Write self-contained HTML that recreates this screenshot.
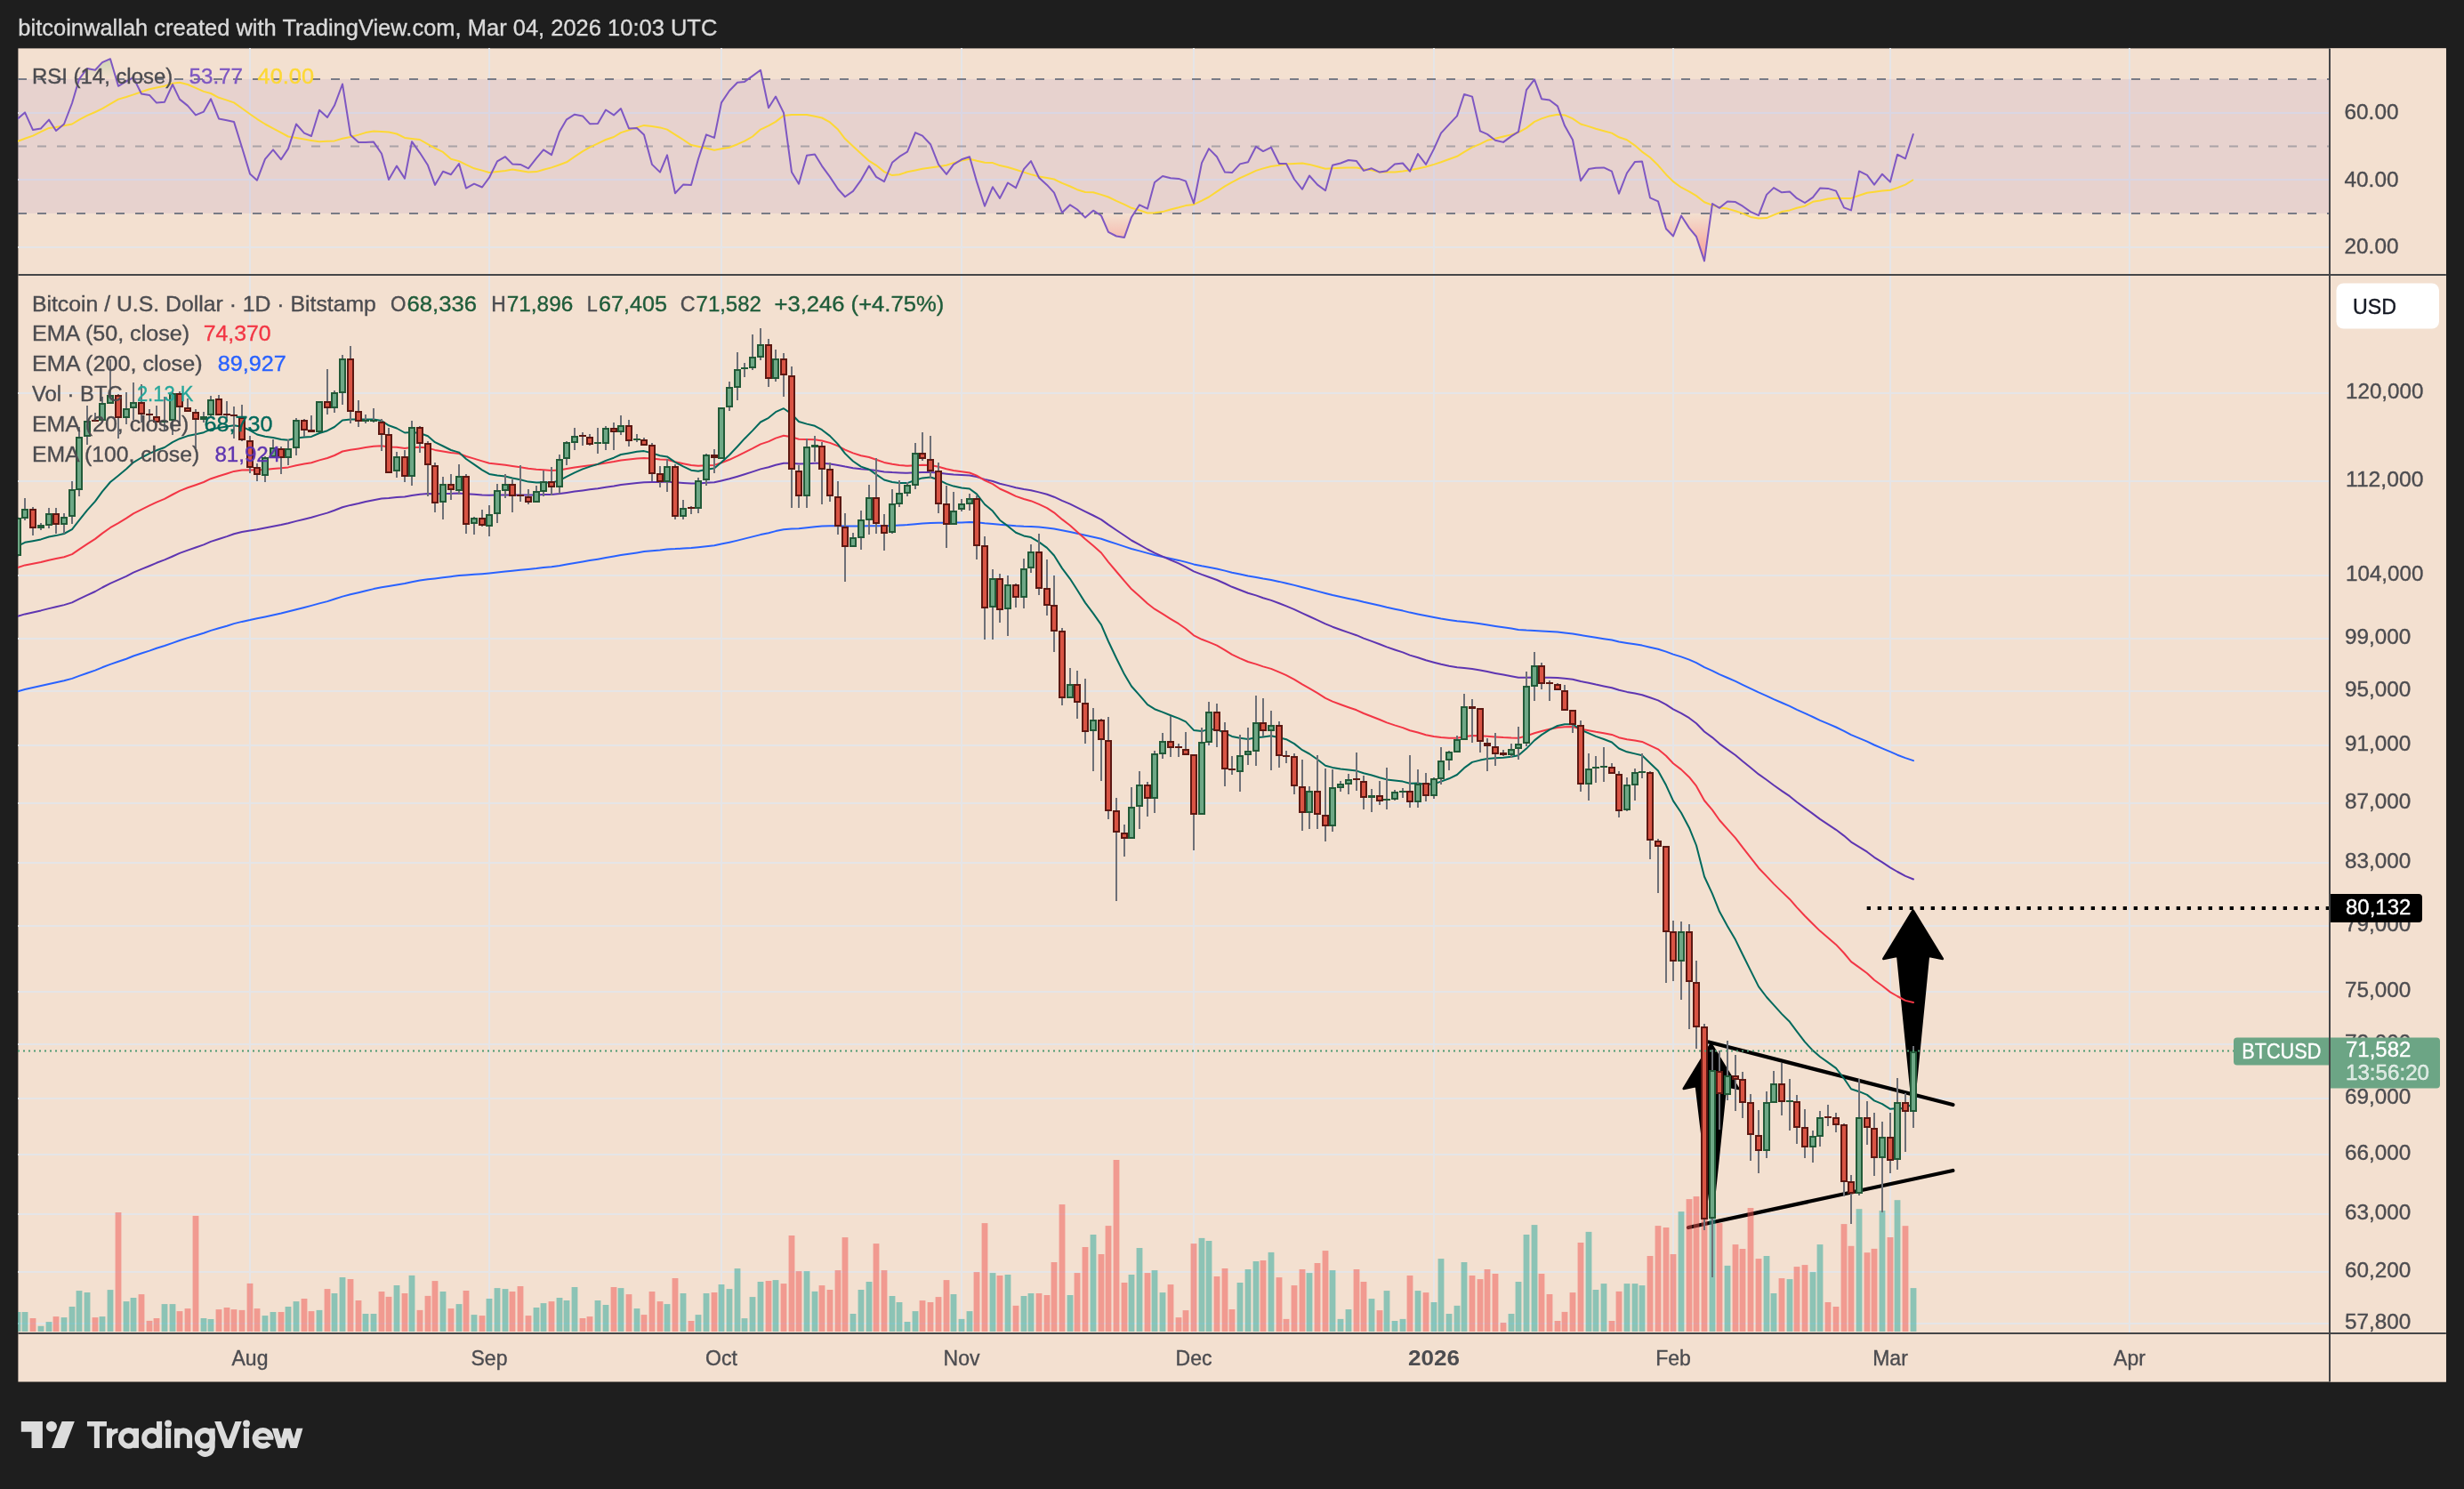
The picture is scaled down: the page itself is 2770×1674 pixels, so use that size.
<!DOCTYPE html>
<html><head><meta charset="utf-8"><title>BTCUSD chart</title>
<style>html,body{margin:0;padding:0;background:#1e1e1e;}body{width:2770px;height:1674px;overflow:hidden;font-family:"Liberation Sans",sans-serif;}svg{display:block;will-change:transform}</style>
</head><body>
<svg xmlns="http://www.w3.org/2000/svg" width="2770" height="1674" viewBox="0 0 2770 1674" shape-rendering="auto">
<defs>
<clipPath id="cm"><rect x="20" y="310" width="2599" height="1188"/></clipPath>
<clipPath id="cr"><rect x="20" y="54" width="2599" height="254"/></clipPath>
<linearGradient id="gob" x1="0" y1="0" x2="0" y2="1" gradientUnits="userSpaceOnUse"><stop offset="0" stop-color="#4caf50" stop-opacity="0.35"/><stop offset="1" stop-color="#4caf50" stop-opacity="0"/></linearGradient>
<linearGradient id="gos" x1="0" y1="239.9" x2="0" y2="300" gradientUnits="userSpaceOnUse"><stop offset="0" stop-color="#ff5252" stop-opacity="0"/><stop offset="1" stop-color="#ff5252" stop-opacity="0.55"/></linearGradient>
<linearGradient id="gobg" x1="0" y1="60" x2="0" y2="88.9" gradientUnits="userSpaceOnUse"><stop offset="0" stop-color="#4caf50" stop-opacity="0.28"/><stop offset="1" stop-color="#4caf50" stop-opacity="0"/></linearGradient>
</defs>
<rect width="2770" height="1674" fill="#1e1e1e"/>
<rect x="20.4" y="54.4" width="2729.46" height="1499.10" fill="#f3e0d0"/>
<path d="M281 54V1499M550 54V1499M811 54V1499M1081 54V1499M1342 54V1499M1612 54V1499M1881 54V1499M2125 54V1499M2394 54V1499M20 442H2618M20 541H2618M20 647H2618M20 718H2618M20 777H2618M20 838H2618M20 903H2618M20 970H2618M20 1041H2618M20 1115H2618M20 1174H2618M20 1235H2618M20 1298H2618M20 1365H2618M20 1430H2618M20 1488H2618M20 127H2619M20 202H2619M20 278H2619" stroke="#e5e5e7" stroke-width="2" fill="none"/>
<g clip-path="url(#cr)">
<rect x="20" y="88.9" width="2599" height="151" fill="#7e57c2" fill-opacity="0.1"/>
<path d="M89 88.9 L98 77 L107 78.8 L115 70.1 L124 66.2 L130.5 88.9Z" fill="url(#gobg)"/>
<path d="M147.2 88.9 L150 87.2 L150.8 88.9Z" fill="url(#gobg)"/>
<path d="M841 88.9 L846 85.4 L855 78.8 L857.1 88.9Z" fill="url(#gobg)"/>
<path d="M1215.2 239.9 L1220 244.6 L1225.2 239.9Z" fill="url(#gos)"/>
<path d="M1233.8 239.9 L1238 242.5 L1246 260.8 L1255 265.5 L1264 266.9 L1272 244.2 L1274.7 239.9Z" fill="url(#gos)"/>
<path d="M1867.8 239.9 L1873 257.3 L1881 265.5 L1890 242.5 L1899 256.4 L1907 266 L1916 293.4 L1923.2 239.9Z" fill="url(#gos)"/>
<path d="M1971.9 239.9 L1977 242.1 L1977.8 239.9Z" fill="url(#gos)"/>
<path d="M20 88.9H2619M20 239.9H2619" stroke="#787b86" stroke-width="2" stroke-dasharray="10 12" fill="none"/>
<path d="M20 164.4H2619" stroke="#787b86" stroke-opacity="0.55" stroke-width="2" stroke-dasharray="10 12" fill="none"/>
<polyline points="20,158.7 28,155.7 37,152.6 46,148.2 55,143.9 63,143 72,141.3 81,139.5 89,134.7 98,129.9 107,126 115,122.1 124,116.8 133,111.6 142,109 150,106.4 159,103.3 168,100.2 176,98.5 185,96.8 194,93.8 202,92.7 211,95 220,98.9 229,102.9 237,105 246,109.8 255,112.6 263,115.4 272,121.8 281,128.2 289,133.8 298,139.5 307,144.3 316,149.1 324,153.5 333,155 342,156.6 350,157.9 359,159.2 368,158.8 376,158.4 385,155.7 394,154 403,151.6 411,149.1 420,147.4 429,148 437,148.6 446,150.5 455,154.9 463,155.9 472,157 481,162.2 489,166.6 498,170.9 507,178.8 516,181.1 524,185.2 533,189.3 542,191.6 550,194 559,192.9 568,191.9 576,190.6 585,192.1 594,193.6 603,193.1 611,190.7 620,188.4 629,185.3 637,182.3 646,176.2 655,170.1 663,165.7 672,161.3 681,157 690,154 698,149.1 707,146.2 716,143.4 724,140.9 733,142.1 742,143.4 750,145.6 759,151.3 768,157 777,163.1 785,164.8 794,166.6 803,168.7 811,167.2 820,165.7 829,162.2 837,158.7 846,153.5 855,145.6 864,141.3 872,136.9 881,129.9 890,129 898,129 907,129 916,130.8 924,132.5 933,137.4 942,145.6 950,156.1 959,164.4 968,172.7 977,180.9 985,185.8 994,193.1 1003,197.1 1011,196.2 1020,193.3 1029,191.5 1037,189.8 1046,188.5 1055,187.2 1064,185.8 1072,183.1 1081,180.5 1090,178.8 1098,180.8 1107,182.8 1116,183.1 1124,186.1 1133,188 1142,190.8 1151,193.6 1159,196.1 1168,198.5 1177,200 1185,201.5 1194,205.8 1203,209.5 1211,213.2 1220,216 1229,216.3 1238,218.9 1246,221.5 1255,225.9 1264,229.8 1272,233.8 1281,236.4 1290,239.5 1298,239.3 1307,238.1 1316,235.5 1325,233.3 1333,231.1 1342,229.9 1351,225.7 1359,221.5 1368,215.4 1377,209.3 1385,204.8 1394,200.2 1403,196.1 1412,191.9 1420,189.4 1429,187 1438,185.8 1446,184.5 1455,184 1464,183.5 1472,184.9 1481,187.3 1490,189.8 1498,189.3 1507,188.7 1516,188.6 1525,188.4 1533,189.9 1542,191.3 1551,193.6 1559,193.6 1568,193.6 1577,192.5 1585,191.3 1594,189.4 1603,187.5 1612,184.9 1620,182.3 1629,179 1638,175.8 1646,170.8 1655,165.7 1664,161.8 1672,157.8 1681,155.7 1690,153.5 1699,151.4 1707,148.8 1716,143.9 1725,136.9 1733,133.4 1742,130.4 1751,128.7 1759,129.4 1768,133.4 1777,139.5 1786,142.1 1794,144.8 1803,147.2 1812,149.6 1820,154.3 1829,157.3 1838,163.6 1846,170.6 1855,177 1864,185.8 1873,196.2 1881,204.1 1890,210.7 1899,215.4 1907,220.1 1916,227.3 1925,230.6 1933,233.4 1942,234.6 1951,237.2 1959,239.9 1968,243.9 1977,245.6 1986,245.1 1994,241.6 2003,238.1 2012,236.4 2020,233.8 2029,231.7 2038,226.8 2046,225.4 2055,223.6 2064,222.8 2073,222.9 2081,222.9 2090,219.8 2099,216.8 2107,215.8 2116,214.6 2125,213.7 2133,211.1 2142,207.6 2151,202" fill="none" stroke="#fdd835" stroke-width="2" stroke-linejoin="round"/>
<polyline points="20,133.4 28,126.4 37,146.1 46,144.4 55,134.6 63,147 72,139.5 81,116 89,88.9 98,77 107,78.8 115,70.1 124,66.2 133,96.8 142,91.5 150,87.2 159,105.5 168,106.9 176,115.6 185,114.7 194,95 202,111.6 211,118.9 220,129.4 229,125.6 237,111.2 246,133.4 255,135.2 263,136.9 272,165.7 281,195.4 289,202.7 298,178.8 307,168.3 316,179.3 324,167.1 333,139.5 342,149.6 350,153 359,123.8 368,132 376,118.6 385,94.5 394,151.7 403,159.9 411,159.9 420,159.6 429,172.7 437,202 446,186.6 455,200.6 463,159.2 472,171.8 481,185.8 489,207.9 498,192.7 507,196.2 516,184 524,211.6 533,206.7 542,210.5 550,199.7 559,181.4 568,176.2 576,184.4 585,184.9 594,189.3 603,177.9 611,168.3 620,174.1 629,147.9 637,134.3 646,128.7 655,130.4 663,139.2 672,139 681,123.5 690,129.4 698,122.1 707,144.4 716,143.9 724,151.4 733,184.9 742,193.6 750,174.4 759,217.2 768,207.6 777,207.9 785,178.8 794,151.4 803,154.9 811,115.4 820,102 829,92.7 837,91.9 846,85.4 855,78.8 864,121.2 872,108.5 881,126.9 890,193.6 898,206.7 907,174.8 916,173.5 924,186.6 933,198.9 942,212.5 950,221.2 959,214.9 968,202.3 977,186.6 985,198.9 994,204.1 1003,182.8 1011,176.2 1020,170.6 1029,149.1 1037,152.6 1046,162.2 1055,184.9 1064,195.9 1072,184.9 1081,179.3 1090,176.2 1098,204.1 1107,231.7 1116,210.2 1124,222.9 1133,205.5 1142,211.1 1151,190.1 1159,181.1 1168,199.7 1177,207.9 1185,216.7 1194,239 1203,230.3 1211,235.5 1220,244.6 1229,236.7 1238,242.5 1246,260.8 1255,265.5 1264,266.9 1272,244.2 1281,230.3 1290,234.6 1298,205 1307,198 1316,200.2 1325,200.9 1333,203.6 1342,228.5 1351,183.1 1359,167.1 1368,176.2 1377,193.6 1385,194.1 1394,184.4 1403,182.3 1412,164.8 1420,170.1 1429,165.7 1438,184 1446,184 1455,201.5 1464,212.8 1472,197.5 1481,207.6 1490,214.2 1498,185.8 1507,183.5 1516,180 1525,181.1 1533,191.9 1542,189.3 1551,193.6 1559,192.2 1568,184.4 1577,183.5 1585,192.7 1594,173 1603,184.9 1612,167.4 1620,149.6 1629,139.9 1638,130.4 1646,106 1655,108.6 1664,147.4 1672,150.9 1681,157.8 1690,159.9 1699,153.1 1707,148.2 1716,101.1 1725,89.4 1733,111.2 1742,112.5 1751,119.4 1759,141.3 1768,157.3 1777,203.2 1786,190.1 1794,188.7 1803,188.4 1812,192.7 1820,217.7 1829,194.5 1838,181.9 1846,181.4 1855,222.4 1864,226.4 1873,257.3 1881,265.5 1890,242.5 1899,256.4 1907,266 1916,293.4 1925,229 1933,233.8 1942,226.4 1951,227.1 1959,231.7 1968,238.1 1977,242.1 1986,218.9 1994,211.1 2003,216.3 2012,215.4 2020,222.9 2029,228 2038,221.9 2046,211.6 2055,211.9 2064,214.6 2073,233.4 2081,236.4 2090,192.4 2099,196.8 2107,207.6 2116,195.7 2125,204.6 2133,173.7 2142,178.3 2151,150.2" fill="none" stroke="#7e57c2" stroke-width="2" stroke-linejoin="round"/>
</g>
<g clip-path="url(#cm)">
<path d="M2150.6 1023.5 L2183.9 1078 L2167.9 1074.8 L2150.8 1249 L2133.3 1074.8 L2117.3 1078Z" fill="#000" stroke="#000" stroke-width="2.5" stroke-linejoin="round"/>
<path d="M1923.5 1173.5 L1954.3 1224 L1940.1 1221 L1924.6 1370 L1906.9 1221 L1892.7 1224Z" fill="#000" stroke="#000" stroke-width="2.5" stroke-linejoin="round"/>
<path d="M1921 1171.5L2195.5 1242M1898 1380L2195.4 1316" stroke="#000" stroke-width="4.2" stroke-linecap="round" fill="none"/>
<path d="M2098.7 1021H2619" stroke="#000" stroke-width="4" stroke-dasharray="4.3 7.7" fill="none"/>
<rect x="16.6" y="1475" width="6.8" height="22" fill="#26a69a" fill-opacity="0.5"/>
<rect x="24.6" y="1475" width="6.8" height="22" fill="#26a69a" fill-opacity="0.5"/>
<rect x="33.6" y="1482" width="6.8" height="15" fill="#ef5350" fill-opacity="0.5"/>
<rect x="42.6" y="1490.8" width="6.8" height="6.2" fill="#26a69a" fill-opacity="0.5"/>
<rect x="51.6" y="1486.1" width="6.8" height="10.9" fill="#26a69a" fill-opacity="0.5"/>
<rect x="59.6" y="1480.1" width="6.8" height="16.9" fill="#ef5350" fill-opacity="0.5"/>
<rect x="68.6" y="1481.1" width="6.8" height="15.9" fill="#26a69a" fill-opacity="0.5"/>
<rect x="77.6" y="1469" width="6.8" height="28" fill="#26a69a" fill-opacity="0.5"/>
<rect x="85.6" y="1451.1" width="6.8" height="45.9" fill="#26a69a" fill-opacity="0.5"/>
<rect x="94.6" y="1453" width="6.8" height="44" fill="#26a69a" fill-opacity="0.5"/>
<rect x="103.6" y="1481.1" width="6.8" height="15.9" fill="#ef5350" fill-opacity="0.5"/>
<rect x="111.6" y="1480.1" width="6.8" height="16.9" fill="#26a69a" fill-opacity="0.5"/>
<rect x="120.6" y="1450.1" width="6.8" height="46.9" fill="#26a69a" fill-opacity="0.5"/>
<rect x="129.6" y="1363" width="6.8" height="134" fill="#ef5350" fill-opacity="0.5"/>
<rect x="138.6" y="1463.1" width="6.8" height="33.9" fill="#26a69a" fill-opacity="0.5"/>
<rect x="146.6" y="1459" width="6.8" height="38" fill="#26a69a" fill-opacity="0.5"/>
<rect x="155.6" y="1455.1" width="6.8" height="41.9" fill="#ef5350" fill-opacity="0.5"/>
<rect x="164.6" y="1484.9" width="6.8" height="12.1" fill="#ef5350" fill-opacity="0.5"/>
<rect x="172.6" y="1482" width="6.8" height="15" fill="#ef5350" fill-opacity="0.5"/>
<rect x="181.6" y="1466.1" width="6.8" height="30.9" fill="#26a69a" fill-opacity="0.5"/>
<rect x="190.6" y="1466.1" width="6.8" height="30.9" fill="#26a69a" fill-opacity="0.5"/>
<rect x="198.6" y="1474.1" width="6.8" height="22.9" fill="#ef5350" fill-opacity="0.5"/>
<rect x="207.6" y="1471.1" width="6.8" height="25.9" fill="#ef5350" fill-opacity="0.5"/>
<rect x="216.6" y="1366.9" width="6.8" height="130.1" fill="#ef5350" fill-opacity="0.5"/>
<rect x="225.6" y="1482" width="6.8" height="15" fill="#26a69a" fill-opacity="0.5"/>
<rect x="233.6" y="1483" width="6.8" height="14" fill="#26a69a" fill-opacity="0.5"/>
<rect x="242.6" y="1472.1" width="6.8" height="24.9" fill="#ef5350" fill-opacity="0.5"/>
<rect x="251.6" y="1470" width="6.8" height="27" fill="#ef5350" fill-opacity="0.5"/>
<rect x="259.6" y="1472.1" width="6.8" height="24.9" fill="#ef5350" fill-opacity="0.5"/>
<rect x="268.6" y="1472.9" width="6.8" height="24.1" fill="#ef5350" fill-opacity="0.5"/>
<rect x="277.6" y="1442.9" width="6.8" height="54.1" fill="#ef5350" fill-opacity="0.5"/>
<rect x="285.6" y="1471.1" width="6.8" height="25.9" fill="#ef5350" fill-opacity="0.5"/>
<rect x="294.6" y="1479.1" width="6.8" height="17.9" fill="#26a69a" fill-opacity="0.5"/>
<rect x="303.6" y="1475" width="6.8" height="22" fill="#26a69a" fill-opacity="0.5"/>
<rect x="312.6" y="1475" width="6.8" height="22" fill="#ef5350" fill-opacity="0.5"/>
<rect x="320.6" y="1469" width="6.8" height="28" fill="#26a69a" fill-opacity="0.5"/>
<rect x="329.6" y="1463.1" width="6.8" height="33.9" fill="#26a69a" fill-opacity="0.5"/>
<rect x="338.6" y="1460" width="6.8" height="37" fill="#ef5350" fill-opacity="0.5"/>
<rect x="346.6" y="1474.1" width="6.8" height="22.9" fill="#ef5350" fill-opacity="0.5"/>
<rect x="355.6" y="1472.9" width="6.8" height="24.1" fill="#26a69a" fill-opacity="0.5"/>
<rect x="364.6" y="1449.1" width="6.8" height="47.9" fill="#ef5350" fill-opacity="0.5"/>
<rect x="372.6" y="1454" width="6.8" height="43" fill="#26a69a" fill-opacity="0.5"/>
<rect x="381.6" y="1436" width="6.8" height="61" fill="#26a69a" fill-opacity="0.5"/>
<rect x="390.6" y="1438" width="6.8" height="59" fill="#ef5350" fill-opacity="0.5"/>
<rect x="399.6" y="1462" width="6.8" height="35" fill="#ef5350" fill-opacity="0.5"/>
<rect x="407.6" y="1477" width="6.8" height="20" fill="#26a69a" fill-opacity="0.5"/>
<rect x="416.6" y="1477" width="6.8" height="20" fill="#26a69a" fill-opacity="0.5"/>
<rect x="425.6" y="1452" width="6.8" height="45" fill="#ef5350" fill-opacity="0.5"/>
<rect x="433.6" y="1457.9" width="6.8" height="39.1" fill="#ef5350" fill-opacity="0.5"/>
<rect x="442.6" y="1445" width="6.8" height="52" fill="#26a69a" fill-opacity="0.5"/>
<rect x="451.6" y="1454" width="6.8" height="43" fill="#ef5350" fill-opacity="0.5"/>
<rect x="459.6" y="1433.9" width="6.8" height="63.1" fill="#26a69a" fill-opacity="0.5"/>
<rect x="468.6" y="1472.9" width="6.8" height="24.1" fill="#ef5350" fill-opacity="0.5"/>
<rect x="477.6" y="1456.9" width="6.8" height="40.1" fill="#ef5350" fill-opacity="0.5"/>
<rect x="485.6" y="1440.1" width="6.8" height="56.9" fill="#ef5350" fill-opacity="0.5"/>
<rect x="494.6" y="1452" width="6.8" height="45" fill="#26a69a" fill-opacity="0.5"/>
<rect x="503.6" y="1471.1" width="6.8" height="25.9" fill="#ef5350" fill-opacity="0.5"/>
<rect x="512.6" y="1466.1" width="6.8" height="30.9" fill="#26a69a" fill-opacity="0.5"/>
<rect x="520.6" y="1451" width="6.8" height="46" fill="#ef5350" fill-opacity="0.5"/>
<rect x="529.6" y="1478.1" width="6.8" height="18.9" fill="#26a69a" fill-opacity="0.5"/>
<rect x="538.6" y="1479.1" width="6.8" height="17.9" fill="#ef5350" fill-opacity="0.5"/>
<rect x="546.6" y="1460" width="6.8" height="37" fill="#26a69a" fill-opacity="0.5"/>
<rect x="555.6" y="1448.1" width="6.8" height="48.9" fill="#26a69a" fill-opacity="0.5"/>
<rect x="564.6" y="1449.1" width="6.8" height="47.9" fill="#26a69a" fill-opacity="0.5"/>
<rect x="572.6" y="1452" width="6.8" height="45" fill="#ef5350" fill-opacity="0.5"/>
<rect x="581.6" y="1446" width="6.8" height="51" fill="#ef5350" fill-opacity="0.5"/>
<rect x="590.6" y="1479.1" width="6.8" height="17.9" fill="#ef5350" fill-opacity="0.5"/>
<rect x="599.6" y="1470" width="6.8" height="27" fill="#26a69a" fill-opacity="0.5"/>
<rect x="607.6" y="1465.1" width="6.8" height="31.9" fill="#26a69a" fill-opacity="0.5"/>
<rect x="616.6" y="1463.1" width="6.8" height="33.9" fill="#ef5350" fill-opacity="0.5"/>
<rect x="625.6" y="1459" width="6.8" height="38" fill="#26a69a" fill-opacity="0.5"/>
<rect x="633.6" y="1462" width="6.8" height="35" fill="#26a69a" fill-opacity="0.5"/>
<rect x="642.6" y="1447" width="6.8" height="50" fill="#26a69a" fill-opacity="0.5"/>
<rect x="651.6" y="1482" width="6.8" height="15" fill="#ef5350" fill-opacity="0.5"/>
<rect x="659.6" y="1480.1" width="6.8" height="16.9" fill="#ef5350" fill-opacity="0.5"/>
<rect x="668.6" y="1462" width="6.8" height="35" fill="#26a69a" fill-opacity="0.5"/>
<rect x="677.6" y="1467" width="6.8" height="30" fill="#26a69a" fill-opacity="0.5"/>
<rect x="686.6" y="1447" width="6.8" height="50" fill="#ef5350" fill-opacity="0.5"/>
<rect x="694.6" y="1448.1" width="6.8" height="48.9" fill="#26a69a" fill-opacity="0.5"/>
<rect x="703.6" y="1455.1" width="6.8" height="41.9" fill="#ef5350" fill-opacity="0.5"/>
<rect x="712.6" y="1471.1" width="6.8" height="25.9" fill="#26a69a" fill-opacity="0.5"/>
<rect x="720.6" y="1478.1" width="6.8" height="18.9" fill="#ef5350" fill-opacity="0.5"/>
<rect x="729.6" y="1452" width="6.8" height="45" fill="#ef5350" fill-opacity="0.5"/>
<rect x="738.6" y="1463.1" width="6.8" height="33.9" fill="#ef5350" fill-opacity="0.5"/>
<rect x="746.6" y="1466.1" width="6.8" height="30.9" fill="#26a69a" fill-opacity="0.5"/>
<rect x="755.6" y="1437" width="6.8" height="60" fill="#ef5350" fill-opacity="0.5"/>
<rect x="764.6" y="1454" width="6.8" height="43" fill="#26a69a" fill-opacity="0.5"/>
<rect x="773.6" y="1485" width="6.8" height="12" fill="#ef5350" fill-opacity="0.5"/>
<rect x="781.6" y="1478.1" width="6.8" height="18.9" fill="#26a69a" fill-opacity="0.5"/>
<rect x="790.6" y="1454" width="6.8" height="43" fill="#26a69a" fill-opacity="0.5"/>
<rect x="799.6" y="1453" width="6.8" height="44" fill="#ef5350" fill-opacity="0.5"/>
<rect x="807.6" y="1444" width="6.8" height="53" fill="#26a69a" fill-opacity="0.5"/>
<rect x="816.6" y="1449.1" width="6.8" height="47.9" fill="#26a69a" fill-opacity="0.5"/>
<rect x="825.6" y="1426.1" width="6.8" height="70.9" fill="#26a69a" fill-opacity="0.5"/>
<rect x="833.6" y="1482.1" width="6.8" height="14.9" fill="#26a69a" fill-opacity="0.5"/>
<rect x="842.6" y="1458.1" width="6.8" height="38.9" fill="#26a69a" fill-opacity="0.5"/>
<rect x="851.6" y="1441" width="6.8" height="56" fill="#26a69a" fill-opacity="0.5"/>
<rect x="860.6" y="1440" width="6.8" height="57" fill="#ef5350" fill-opacity="0.5"/>
<rect x="868.6" y="1439.1" width="6.8" height="57.9" fill="#26a69a" fill-opacity="0.5"/>
<rect x="877.6" y="1443.1" width="6.8" height="53.9" fill="#ef5350" fill-opacity="0.5"/>
<rect x="886.6" y="1389" width="6.8" height="108" fill="#ef5350" fill-opacity="0.5"/>
<rect x="894.6" y="1429.1" width="6.8" height="67.9" fill="#ef5350" fill-opacity="0.5"/>
<rect x="903.6" y="1429.1" width="6.8" height="67.9" fill="#26a69a" fill-opacity="0.5"/>
<rect x="912.6" y="1451.9" width="6.8" height="45.1" fill="#26a69a" fill-opacity="0.5"/>
<rect x="920.6" y="1445.1" width="6.8" height="51.9" fill="#ef5350" fill-opacity="0.5"/>
<rect x="929.6" y="1450" width="6.8" height="47" fill="#ef5350" fill-opacity="0.5"/>
<rect x="938.6" y="1428.1" width="6.8" height="68.9" fill="#ef5350" fill-opacity="0.5"/>
<rect x="946.6" y="1391.1" width="6.8" height="105.9" fill="#ef5350" fill-opacity="0.5"/>
<rect x="955.6" y="1477" width="6.8" height="20" fill="#26a69a" fill-opacity="0.5"/>
<rect x="964.6" y="1450" width="6.8" height="47" fill="#26a69a" fill-opacity="0.5"/>
<rect x="973.6" y="1441" width="6.8" height="56" fill="#26a69a" fill-opacity="0.5"/>
<rect x="981.6" y="1398.1" width="6.8" height="98.9" fill="#ef5350" fill-opacity="0.5"/>
<rect x="990.6" y="1428.1" width="6.8" height="68.9" fill="#ef5350" fill-opacity="0.5"/>
<rect x="999.6" y="1457" width="6.8" height="40" fill="#26a69a" fill-opacity="0.5"/>
<rect x="1007.6" y="1464" width="6.8" height="33" fill="#26a69a" fill-opacity="0.5"/>
<rect x="1016.6" y="1486" width="6.8" height="11" fill="#26a69a" fill-opacity="0.5"/>
<rect x="1025.6" y="1474.1" width="6.8" height="22.9" fill="#26a69a" fill-opacity="0.5"/>
<rect x="1033.6" y="1462.1" width="6.8" height="34.9" fill="#ef5350" fill-opacity="0.5"/>
<rect x="1042.6" y="1464" width="6.8" height="33" fill="#ef5350" fill-opacity="0.5"/>
<rect x="1051.6" y="1458.1" width="6.8" height="38.9" fill="#ef5350" fill-opacity="0.5"/>
<rect x="1060.6" y="1439.1" width="6.8" height="57.9" fill="#ef5350" fill-opacity="0.5"/>
<rect x="1068.6" y="1455" width="6.8" height="42" fill="#26a69a" fill-opacity="0.5"/>
<rect x="1077.6" y="1482.9" width="6.8" height="14.1" fill="#26a69a" fill-opacity="0.5"/>
<rect x="1086.6" y="1474.1" width="6.8" height="22.9" fill="#26a69a" fill-opacity="0.5"/>
<rect x="1094.6" y="1430.1" width="6.8" height="66.9" fill="#ef5350" fill-opacity="0.5"/>
<rect x="1103.6" y="1375.1" width="6.8" height="121.9" fill="#ef5350" fill-opacity="0.5"/>
<rect x="1112.6" y="1431.1" width="6.8" height="65.9" fill="#26a69a" fill-opacity="0.5"/>
<rect x="1120.6" y="1434" width="6.8" height="63" fill="#ef5350" fill-opacity="0.5"/>
<rect x="1129.6" y="1433" width="6.8" height="64" fill="#26a69a" fill-opacity="0.5"/>
<rect x="1138.6" y="1467.9" width="6.8" height="29.1" fill="#ef5350" fill-opacity="0.5"/>
<rect x="1147.6" y="1457" width="6.8" height="40" fill="#26a69a" fill-opacity="0.5"/>
<rect x="1155.6" y="1454" width="6.8" height="43" fill="#26a69a" fill-opacity="0.5"/>
<rect x="1164.6" y="1454" width="6.8" height="43" fill="#ef5350" fill-opacity="0.5"/>
<rect x="1173.6" y="1456" width="6.8" height="41" fill="#ef5350" fill-opacity="0.5"/>
<rect x="1181.6" y="1419" width="6.8" height="78" fill="#ef5350" fill-opacity="0.5"/>
<rect x="1190.6" y="1354.1" width="6.8" height="142.9" fill="#ef5350" fill-opacity="0.5"/>
<rect x="1199.6" y="1456" width="6.8" height="41" fill="#26a69a" fill-opacity="0.5"/>
<rect x="1207.6" y="1431.1" width="6.8" height="65.9" fill="#ef5350" fill-opacity="0.5"/>
<rect x="1216.6" y="1402" width="6.8" height="95" fill="#ef5350" fill-opacity="0.5"/>
<rect x="1225.6" y="1388" width="6.8" height="109" fill="#26a69a" fill-opacity="0.5"/>
<rect x="1234.6" y="1410" width="6.8" height="87" fill="#ef5350" fill-opacity="0.5"/>
<rect x="1242.6" y="1378.1" width="6.8" height="118.9" fill="#ef5350" fill-opacity="0.5"/>
<rect x="1251.6" y="1304" width="6.8" height="193" fill="#ef5350" fill-opacity="0.5"/>
<rect x="1260.6" y="1442" width="6.8" height="55" fill="#ef5350" fill-opacity="0.5"/>
<rect x="1268.6" y="1433" width="6.8" height="64" fill="#26a69a" fill-opacity="0.5"/>
<rect x="1277.6" y="1403" width="6.8" height="94" fill="#26a69a" fill-opacity="0.5"/>
<rect x="1286.6" y="1431.1" width="6.8" height="65.9" fill="#ef5350" fill-opacity="0.5"/>
<rect x="1294.6" y="1428.1" width="6.8" height="68.9" fill="#26a69a" fill-opacity="0.5"/>
<rect x="1303.6" y="1453.1" width="6.8" height="43.9" fill="#26a69a" fill-opacity="0.5"/>
<rect x="1312.6" y="1444.1" width="6.8" height="52.9" fill="#ef5350" fill-opacity="0.5"/>
<rect x="1321.6" y="1481.1" width="6.8" height="15.9" fill="#ef5350" fill-opacity="0.5"/>
<rect x="1329.6" y="1473.1" width="6.8" height="23.9" fill="#ef5350" fill-opacity="0.5"/>
<rect x="1338.6" y="1398.1" width="6.8" height="98.9" fill="#ef5350" fill-opacity="0.5"/>
<rect x="1347.6" y="1391.9" width="6.8" height="105.1" fill="#26a69a" fill-opacity="0.5"/>
<rect x="1355.6" y="1395" width="6.8" height="102" fill="#26a69a" fill-opacity="0.5"/>
<rect x="1364.6" y="1435" width="6.8" height="62" fill="#ef5350" fill-opacity="0.5"/>
<rect x="1373.6" y="1426" width="6.8" height="71" fill="#ef5350" fill-opacity="0.5"/>
<rect x="1381.6" y="1472" width="6.8" height="25" fill="#ef5350" fill-opacity="0.5"/>
<rect x="1390.6" y="1442" width="6.8" height="55" fill="#26a69a" fill-opacity="0.5"/>
<rect x="1399.6" y="1427" width="6.8" height="70" fill="#26a69a" fill-opacity="0.5"/>
<rect x="1408.6" y="1418" width="6.8" height="79" fill="#26a69a" fill-opacity="0.5"/>
<rect x="1416.6" y="1417" width="6.8" height="80" fill="#ef5350" fill-opacity="0.5"/>
<rect x="1425.6" y="1407.9" width="6.8" height="89.1" fill="#26a69a" fill-opacity="0.5"/>
<rect x="1434.6" y="1436.1" width="6.8" height="60.9" fill="#ef5350" fill-opacity="0.5"/>
<rect x="1442.6" y="1482.9" width="6.8" height="14.1" fill="#ef5350" fill-opacity="0.5"/>
<rect x="1451.6" y="1445.1" width="6.8" height="51.9" fill="#ef5350" fill-opacity="0.5"/>
<rect x="1460.6" y="1427" width="6.8" height="70" fill="#ef5350" fill-opacity="0.5"/>
<rect x="1468.6" y="1431.1" width="6.8" height="65.9" fill="#26a69a" fill-opacity="0.5"/>
<rect x="1477.6" y="1420" width="6.8" height="77" fill="#ef5350" fill-opacity="0.5"/>
<rect x="1486.6" y="1406.1" width="6.8" height="90.9" fill="#ef5350" fill-opacity="0.5"/>
<rect x="1494.6" y="1428.1" width="6.8" height="68.9" fill="#26a69a" fill-opacity="0.5"/>
<rect x="1503.6" y="1482.9" width="6.8" height="14.1" fill="#26a69a" fill-opacity="0.5"/>
<rect x="1512.6" y="1472" width="6.8" height="25" fill="#26a69a" fill-opacity="0.5"/>
<rect x="1521.6" y="1427" width="6.8" height="70" fill="#ef5350" fill-opacity="0.5"/>
<rect x="1529.6" y="1441" width="6.8" height="56" fill="#ef5350" fill-opacity="0.5"/>
<rect x="1538.6" y="1460.1" width="6.8" height="36.9" fill="#26a69a" fill-opacity="0.5"/>
<rect x="1547.6" y="1473.1" width="6.8" height="23.9" fill="#ef5350" fill-opacity="0.5"/>
<rect x="1555.6" y="1451.1" width="6.8" height="45.9" fill="#26a69a" fill-opacity="0.5"/>
<rect x="1564.6" y="1485" width="6.8" height="12" fill="#26a69a" fill-opacity="0.5"/>
<rect x="1573.6" y="1482.9" width="6.8" height="14.1" fill="#26a69a" fill-opacity="0.5"/>
<rect x="1581.6" y="1434" width="6.8" height="63" fill="#ef5350" fill-opacity="0.5"/>
<rect x="1590.6" y="1451.1" width="6.8" height="45.9" fill="#26a69a" fill-opacity="0.5"/>
<rect x="1599.6" y="1453.1" width="6.8" height="43.9" fill="#ef5350" fill-opacity="0.5"/>
<rect x="1608.6" y="1464" width="6.8" height="33" fill="#26a69a" fill-opacity="0.5"/>
<rect x="1616.6" y="1415.1" width="6.8" height="81.9" fill="#26a69a" fill-opacity="0.5"/>
<rect x="1625.6" y="1477" width="6.8" height="20" fill="#26a69a" fill-opacity="0.5"/>
<rect x="1634.6" y="1467.9" width="6.8" height="29.1" fill="#26a69a" fill-opacity="0.5"/>
<rect x="1642.6" y="1419" width="6.8" height="78" fill="#26a69a" fill-opacity="0.5"/>
<rect x="1651.6" y="1434" width="6.8" height="63" fill="#ef5350" fill-opacity="0.5"/>
<rect x="1660.6" y="1438.1" width="6.8" height="58.9" fill="#ef5350" fill-opacity="0.5"/>
<rect x="1668.6" y="1427" width="6.8" height="70" fill="#ef5350" fill-opacity="0.5"/>
<rect x="1677.6" y="1432" width="6.8" height="65" fill="#ef5350" fill-opacity="0.5"/>
<rect x="1686.6" y="1487" width="6.8" height="10" fill="#ef5350" fill-opacity="0.5"/>
<rect x="1695.6" y="1477" width="6.8" height="20" fill="#26a69a" fill-opacity="0.5"/>
<rect x="1703.6" y="1441" width="6.8" height="56" fill="#26a69a" fill-opacity="0.5"/>
<rect x="1712.6" y="1388" width="6.8" height="109" fill="#26a69a" fill-opacity="0.5"/>
<rect x="1721.6" y="1377.1" width="6.8" height="119.9" fill="#26a69a" fill-opacity="0.5"/>
<rect x="1729.6" y="1432" width="6.8" height="65" fill="#ef5350" fill-opacity="0.5"/>
<rect x="1738.6" y="1455" width="6.8" height="42" fill="#ef5350" fill-opacity="0.5"/>
<rect x="1747.6" y="1485" width="6.8" height="12" fill="#ef5350" fill-opacity="0.5"/>
<rect x="1755.6" y="1474.9" width="6.8" height="22.1" fill="#ef5350" fill-opacity="0.5"/>
<rect x="1764.6" y="1453.1" width="6.8" height="43.9" fill="#ef5350" fill-opacity="0.5"/>
<rect x="1773.6" y="1397" width="6.8" height="100" fill="#ef5350" fill-opacity="0.5"/>
<rect x="1782.6" y="1384.9" width="6.8" height="112.1" fill="#26a69a" fill-opacity="0.5"/>
<rect x="1790.6" y="1450" width="6.8" height="47" fill="#26a69a" fill-opacity="0.5"/>
<rect x="1799.6" y="1443.1" width="6.8" height="53.9" fill="#26a69a" fill-opacity="0.5"/>
<rect x="1808.6" y="1485" width="6.8" height="12" fill="#ef5350" fill-opacity="0.5"/>
<rect x="1816.6" y="1451.9" width="6.8" height="45.1" fill="#ef5350" fill-opacity="0.5"/>
<rect x="1825.6" y="1443.1" width="6.8" height="53.9" fill="#26a69a" fill-opacity="0.5"/>
<rect x="1834.6" y="1443.1" width="6.8" height="53.9" fill="#26a69a" fill-opacity="0.5"/>
<rect x="1842.6" y="1445.1" width="6.8" height="51.9" fill="#26a69a" fill-opacity="0.5"/>
<rect x="1851.6" y="1412" width="6.8" height="85" fill="#ef5350" fill-opacity="0.5"/>
<rect x="1860.6" y="1378.1" width="6.8" height="118.9" fill="#ef5350" fill-opacity="0.5"/>
<rect x="1869.6" y="1380" width="6.8" height="117" fill="#ef5350" fill-opacity="0.5"/>
<rect x="1877.6" y="1410" width="6.8" height="87" fill="#ef5350" fill-opacity="0.5"/>
<rect x="1886.6" y="1362.1" width="6.8" height="134.9" fill="#26a69a" fill-opacity="0.5"/>
<rect x="1895.6" y="1348.1" width="6.8" height="148.9" fill="#ef5350" fill-opacity="0.5"/>
<rect x="1903.6" y="1345.1" width="6.8" height="151.9" fill="#ef5350" fill-opacity="0.5"/>
<rect x="1912.6" y="1341.1" width="6.8" height="155.9" fill="#ef5350" fill-opacity="0.5"/>
<rect x="1921.6" y="1337.7" width="6.8" height="159.3" fill="#26a69a" fill-opacity="0.5"/>
<rect x="1929.6" y="1375.1" width="6.8" height="121.9" fill="#ef5350" fill-opacity="0.5"/>
<rect x="1938.6" y="1422.9" width="6.8" height="74.1" fill="#26a69a" fill-opacity="0.5"/>
<rect x="1947.6" y="1399.1" width="6.8" height="97.9" fill="#ef5350" fill-opacity="0.5"/>
<rect x="1955.6" y="1404" width="6.8" height="93" fill="#ef5350" fill-opacity="0.5"/>
<rect x="1964.6" y="1358" width="6.8" height="139" fill="#ef5350" fill-opacity="0.5"/>
<rect x="1973.6" y="1415.1" width="6.8" height="81.9" fill="#ef5350" fill-opacity="0.5"/>
<rect x="1982.6" y="1412" width="6.8" height="85" fill="#26a69a" fill-opacity="0.5"/>
<rect x="1990.6" y="1454" width="6.8" height="43" fill="#26a69a" fill-opacity="0.5"/>
<rect x="1999.6" y="1437.1" width="6.8" height="59.9" fill="#ef5350" fill-opacity="0.5"/>
<rect x="2008.6" y="1438.1" width="6.8" height="58.9" fill="#26a69a" fill-opacity="0.5"/>
<rect x="2016.6" y="1424.1" width="6.8" height="72.9" fill="#ef5350" fill-opacity="0.5"/>
<rect x="2025.6" y="1422.1" width="6.8" height="74.9" fill="#ef5350" fill-opacity="0.5"/>
<rect x="2034.6" y="1430.1" width="6.8" height="66.9" fill="#26a69a" fill-opacity="0.5"/>
<rect x="2042.6" y="1399.1" width="6.8" height="97.9" fill="#26a69a" fill-opacity="0.5"/>
<rect x="2051.6" y="1464" width="6.8" height="33" fill="#ef5350" fill-opacity="0.5"/>
<rect x="2060.6" y="1469" width="6.8" height="28" fill="#ef5350" fill-opacity="0.5"/>
<rect x="2069.6" y="1376.1" width="6.8" height="120.9" fill="#ef5350" fill-opacity="0.5"/>
<rect x="2077.6" y="1400.8" width="6.8" height="96.2" fill="#ef5350" fill-opacity="0.5"/>
<rect x="2086.6" y="1359.2" width="6.8" height="137.8" fill="#26a69a" fill-opacity="0.5"/>
<rect x="2095.6" y="1408.2" width="6.8" height="88.8" fill="#ef5350" fill-opacity="0.5"/>
<rect x="2103.6" y="1403.9" width="6.8" height="93.1" fill="#ef5350" fill-opacity="0.5"/>
<rect x="2112.6" y="1361" width="6.8" height="136" fill="#26a69a" fill-opacity="0.5"/>
<rect x="2121.6" y="1391" width="6.8" height="106" fill="#ef5350" fill-opacity="0.5"/>
<rect x="2129.6" y="1349.2" width="6.8" height="147.8" fill="#26a69a" fill-opacity="0.5"/>
<rect x="2138.6" y="1378.2" width="6.8" height="118.8" fill="#ef5350" fill-opacity="0.5"/>
<rect x="2147.6" y="1448.1" width="6.8" height="48.9" fill="#26a69a" fill-opacity="0.5"/>
<polyline points="20,777.2 28,775 37,773.1 46,771.1 55,769.1 63,767.2 72,765.2 81,762.9 89,759.9 98,756.7 107,753.6 115,750.3 124,746.9 133,743.8 142,740.7 150,737.5 159,734.5 168,731.6 176,728.8 185,726 194,722.9 202,720 211,717.1 220,714.5 229,711.8 237,708.9 246,706.3 255,703.7 263,701.1 272,698.9 281,697.1 289,695.3 298,693.4 307,691.4 316,689.5 324,687.5 333,685.2 342,683 350,680.9 359,678.4 368,676.1 376,673.5 385,670.6 394,668.3 403,666.2 411,664.2 420,662.1 429,660.3 437,658.9 446,657.4 455,656.1 463,654.3 472,652.6 481,651.3 489,650.4 498,649.3 507,648.2 516,647.1 524,646.5 533,645.8 542,645.2 550,644.5 559,643.6 568,642.5 576,641.7 585,640.8 594,640 603,639.1 611,638.1 620,637.2 629,635.9 637,634.4 646,632.9 655,631.4 663,630.1 672,628.7 681,627.1 690,625.6 698,624.1 707,622.7 716,621.4 724,620.1 733,619.2 742,618.4 750,617.4 759,617.1 768,616.6 777,616.1 785,615.3 794,614.3 803,613.2 811,611.6 820,609.7 829,607.6 837,605.6 846,603.4 855,601.1 864,599.2 872,597.1 881,595.3 890,594.6 898,594.2 907,593.2 916,592.3 924,591.6 933,591.3 942,591.3 950,591.5 959,591.6 968,591.5 977,591.2 985,591.2 994,591.2 1003,591 1011,590.6 1020,590.1 1029,589.3 1037,588.5 1046,587.9 1055,587.7 1064,587.7 1072,587.6 1081,587.4 1090,587.1 1098,587.3 1107,588.3 1116,588.9 1124,589.8 1133,590.4 1142,591.2 1151,591.7 1159,591.9 1168,592.6 1177,593.5 1185,594.6 1194,596.3 1203,597.9 1211,599.7 1220,601.8 1229,603.7 1238,605.8 1246,608.5 1255,611.4 1264,614.4 1272,617 1281,619.4 1290,621.9 1298,624 1307,625.9 1316,627.9 1325,629.9 1333,631.9 1342,634.4 1351,636.3 1359,637.8 1368,639.5 1377,641.6 1385,643.7 1394,645.6 1403,647.4 1412,648.9 1420,650.6 1429,652.1 1438,653.9 1446,655.8 1455,657.9 1464,660.2 1472,662.3 1481,664.6 1490,667 1498,669 1507,671 1516,672.9 1525,674.8 1533,676.8 1542,678.8 1551,680.8 1559,682.8 1568,684.8 1577,686.6 1585,688.6 1594,690.4 1603,692.3 1612,694 1620,695.5 1629,696.9 1638,698.2 1646,699.1 1655,700.1 1664,701.3 1672,702.6 1681,704 1690,705.3 1699,706.6 1707,707.9 1716,708.5 1725,708.9 1733,709.4 1742,710 1751,710.6 1759,711.5 1768,712.5 1777,714 1786,715.5 1794,716.8 1803,718.2 1812,719.6 1820,721.4 1829,722.9 1838,724.3 1846,725.6 1855,727.7 1864,729.7 1873,732.6 1881,735.6 1890,738.4 1899,741.6 1907,745.2 1916,750.2 1925,754.1 1933,758.1 1942,762 1951,765.8 1959,769.8 1968,774.1 1977,778.4 1986,782.3 1994,786.1 2003,790 2012,793.8 2020,797.8 2029,801.9 2038,806 2046,809.8 2055,813.6 2064,817.5 2073,821.8 2081,826.1 2090,829.8 2099,833.6 2107,837.5 2116,841.3 2125,845.2 2133,848.7 2142,852.1 2151,855.1" fill="none" stroke="#2962ff" stroke-width="2" stroke-linejoin="round" stroke-linecap="round"/>
<polyline points="20,692.9 28,690.4 37,688.4 46,686.4 55,684.1 63,682.2 72,680.1 81,677.4 89,673.4 98,669.2 107,665 115,660.5 124,655.8 133,651.9 142,647.8 150,643.6 159,639.8 168,636.2 176,632.8 185,629.4 194,625.5 202,621.9 211,618.6 220,615.5 229,612.4 237,608.9 246,606 255,603.1 263,600.2 272,598 281,596.5 289,595.3 298,593.6 307,591.7 316,590.1 324,588.3 333,585.9 342,583.8 350,581.8 359,579.1 368,576.6 376,573.7 385,570.2 394,567.9 403,566 411,564 420,562.2 429,560.6 437,560 446,559.1 455,558.6 463,557 472,555.8 481,555.1 489,555.3 498,555.1 507,554.9 516,554.5 524,555.2 533,555.7 542,556.4 550,556.8 559,556.6 568,556.4 576,556.4 585,556.4 594,556.6 603,556.5 611,556.1 620,555.9 629,555.1 637,553.9 646,552.6 655,551.4 663,550.3 672,549.2 681,547.8 690,546.6 698,545.1 707,544.1 716,543.1 724,542.2 733,542 742,542 750,541.6 759,542.4 768,542.9 777,543.5 785,543.4 794,542.7 803,542.2 811,540.4 820,538.3 829,535.7 837,533.2 846,530.4 855,527.4 864,525.3 872,522.8 881,520.7 890,520.8 898,521.6 907,521.2 916,520.7 924,520.8 933,521.5 942,522.9 950,524.6 959,526.2 968,527.3 977,527.9 985,529.1 994,530.4 1003,531.1 1011,531.5 1020,531.8 1029,531.3 1037,531 1046,530.9 1055,531.6 1064,532.7 1072,533.5 1081,534.1 1090,534.6 1098,536.1 1107,538.9 1116,541 1124,543.7 1133,545.9 1142,548.2 1151,550 1159,551.3 1168,553.4 1177,555.8 1185,558.7 1194,562.8 1203,566.6 1211,570.7 1220,575.2 1229,579.5 1238,584.1 1246,589.9 1255,596 1264,602 1272,607.5 1281,612.4 1290,617.5 1298,621.7 1307,625.6 1316,629.6 1325,633.4 1333,637.4 1342,642.4 1351,645.9 1359,648.8 1368,652 1377,656 1385,659.8 1394,663.3 1403,666.7 1412,669.4 1420,672.3 1429,674.9 1438,678.2 1446,681.4 1455,685.1 1464,689.3 1472,693 1481,697.1 1490,701.3 1498,704.7 1507,708 1516,711.1 1525,714.2 1533,717.6 1542,720.9 1551,724.2 1559,727.4 1568,730.5 1577,733.4 1585,736.6 1594,739.3 1603,742.2 1612,744.7 1620,746.8 1629,748.7 1638,750.2 1646,751.1 1655,752 1664,753.5 1672,755.1 1681,756.9 1690,758.6 1699,760.2 1707,761.7 1716,761.8 1725,761.6 1733,761.7 1742,761.8 1751,762.1 1759,762.8 1768,763.7 1777,766 1786,767.8 1794,769.6 1803,771.4 1812,773.2 1820,775.8 1829,777.9 1838,779.6 1846,781.2 1855,784.3 1864,787.4 1873,792.1 1881,797.3 1890,801.8 1899,807.2 1907,813.3 1916,822.5 1925,829.1 1933,836.1 1942,842.6 1951,849 1959,855.8 1968,863 1977,870.4 1986,876.8 1994,882.8 2003,889.1 2012,895.2 2020,901.7 2029,908.4 2038,914.9 2046,920.9 2055,926.8 2064,932.8 2073,939.6 2081,946.6 2090,952.1 2099,957.7 2107,963.8 2116,969.3 2125,975.3 2133,980 2142,984.9 2151,988.5" fill="none" stroke="#5e35b1" stroke-width="2" stroke-linejoin="round" stroke-linecap="round"/>
<polyline points="20,638.1 28,635.4 37,633.7 46,632 55,629.7 63,628.1 72,626.2 81,623.1 89,617.7 98,611.7 107,605.9 115,599.6 124,593.2 133,588.1 142,582.7 150,577.3 159,572.8 168,568.4 176,564.6 185,560.8 194,556 202,551.9 211,548.3 220,545.2 229,542 237,538.2 246,535.3 255,532.5 263,529.9 272,528.4 281,528.3 289,528.5 298,527.9 307,526.9 316,526.3 324,525.4 333,523.2 342,521.6 350,520.2 359,517.4 368,515 376,512 385,507.5 394,505.7 403,504.4 411,503.1 420,501.8 429,501.3 437,502.4 446,502.8 455,504 463,503.1 472,502.8 481,503.6 489,505.9 498,507.4 507,509 516,510 524,513 533,515.6 542,518.4 550,520.7 559,521.8 568,522.7 576,524 585,525.3 594,526.8 603,527.7 611,528.2 620,528.9 629,528.4 637,527.1 646,525.6 655,524.2 663,523.2 672,522.1 681,520.5 690,519.1 698,517.4 707,516.5 716,515.5 724,514.9 733,515.6 742,516.5 750,516.8 759,519.2 768,521.2 777,523.1 785,523.7 794,523.2 803,522.9 811,520.3 820,516.8 829,512.7 837,508.6 846,504.2 855,499.4 864,496.4 872,492.6 881,489.8 890,491.2 898,493.7 907,494 916,494.3 924,495.5 933,497.9 942,501.4 950,505.6 959,509.4 968,512.2 977,514 985,516.8 994,519.9 1003,521.7 1011,522.9 1020,523.8 1029,523.2 1037,522.8 1046,523.1 1055,524.7 1064,527.2 1072,528.9 1081,530.3 1090,531.5 1098,534.6 1107,540.1 1116,544.2 1124,549.5 1133,553.5 1142,557.9 1151,561 1159,563.2 1168,566.9 1177,571.2 1185,576.3 1194,583.9 1203,590.7 1211,598 1220,606.1 1229,613.6 1238,621.5 1246,631.8 1255,642.5 1264,653.2 1272,662.3 1281,670.3 1290,678.5 1298,684.7 1307,690.2 1316,695.8 1325,701.2 1333,706.7 1342,714.3 1351,718.8 1359,721.9 1368,725.6 1377,730.8 1385,735.8 1394,740.1 1403,744 1412,746.6 1420,749.4 1429,751.9 1438,755.6 1446,759.2 1455,763.9 1464,769.4 1472,773.9 1481,779.2 1490,784.8 1498,788.6 1507,792 1516,795.2 1525,798.3 1533,802 1542,805.5 1551,809 1559,812.4 1568,815.4 1577,818.1 1585,821.3 1594,823.5 1603,826.2 1612,828.1 1620,829.1 1629,829.7 1638,829.8 1646,828.3 1655,827 1664,827.3 1672,827.7 1681,828.4 1690,829.1 1699,829.6 1707,829.8 1716,827.4 1725,824.2 1733,822 1742,819.8 1751,818 1759,817.2 1768,817.1 1777,819.5 1786,821.2 1794,822.8 1803,824.2 1812,825.9 1820,829.2 1829,831.2 1838,832.6 1846,833.9 1855,838.1 1864,842.3 1873,849.8 1881,858.2 1890,865.1 1899,873.7 1907,883.7 1916,900 1925,910.7 1933,922 1942,932.2 1951,942.2 1959,952.7 1968,964.1 1977,975.7 1986,985.1 1994,993.6 2003,1002.4 2012,1010.9 2020,1020.1 2029,1029.8 2038,1038.7 2046,1046.6 2055,1054.3 2064,1061.9 2073,1071.5 2081,1081.1 2090,1087.6 2099,1094.2 2107,1101.8 2116,1108.2 2125,1115.4 2133,1120 2142,1124.9 2151,1127" fill="none" stroke="#f23645" stroke-width="2" stroke-linejoin="round" stroke-linecap="round"/>
<polyline points="20,613.9 28,609.8 37,608.2 46,606.4 55,603.5 63,602.1 72,600 81,595.1 89,584.8 98,573.7 107,563.7 115,552.7 124,542 133,534.8 142,527.3 150,519.8 159,514.5 168,509.8 176,506.3 185,503 194,497.1 202,493.2 211,490.1 220,488.2 229,486.2 237,482.6 246,480.9 255,479.5 263,478.2 272,479.7 281,483.8 289,488.5 298,490.8 307,491.9 316,493.9 324,494.8 333,492.5 342,491.6 350,490.9 359,487 368,484.2 376,480 385,472.4 394,471.4 403,471.5 411,471.5 420,471.5 429,473 437,478.3 446,481.5 455,486.5 463,485.9 472,487 481,490.2 489,497.2 498,501.5 507,506 516,508.6 524,516 533,522.1 542,528.4 550,532.9 559,534.6 568,535.5 576,537.5 585,539.3 594,541.6 603,542.6 611,542.3 620,542.7 629,540.1 637,535.9 646,531.4 655,527.4 663,524.6 672,521.9 681,517.9 690,514.7 698,511 707,509.5 716,507.8 724,507.1 733,509.4 742,512.3 750,513.4 759,519.6 768,524.4 777,528.7 785,529.7 794,527.8 803,526.6 811,519.8 820,511.5 829,502 837,493.2 846,484.1 855,474.5 864,469.8 872,463.2 881,459.2 890,465.5 898,474 907,476.6 916,478.8 924,483.2 933,490.1 942,499.4 950,509.9 959,518.5 968,524.6 977,527.8 985,533.4 994,539.5 1003,542 1011,543 1020,543.1 1029,539.8 1037,537.4 1046,536.5 1055,539.3 1064,543.9 1072,546.6 1081,548.4 1090,549.5 1098,555.4 1107,567 1116,574.6 1124,584.7 1133,591.4 1142,598.8 1151,602.4 1159,604.1 1168,609.4 1177,615.9 1185,624.5 1194,638.9 1203,650.8 1211,663.3 1220,677.6 1229,689.6 1238,702.4 1246,721 1255,740 1264,758.1 1272,771.5 1281,781.6 1290,792.2 1298,797.2 1307,800.6 1316,804.2 1325,807.6 1333,811.4 1342,820.9 1351,822.1 1359,819.9 1368,820 1377,824.1 1385,827.9 1394,829.8 1403,831.1 1412,829.3 1420,828.5 1429,827.2 1438,829.3 1446,831.2 1455,836.1 1464,843.2 1472,847.5 1481,853.8 1490,860.7 1498,862.9 1507,864.6 1516,865.6 1525,866.6 1533,869.3 1542,871.5 1551,874.2 1559,876.4 1568,877.6 1577,878.6 1585,880.7 1594,880.6 1603,881.9 1612,881.2 1620,878.6 1629,875.3 1638,871 1646,863.4 1655,856.9 1664,854.6 1672,853 1681,852.3 1690,851.8 1699,850.8 1707,849.3 1716,841.6 1725,832.4 1733,826.1 1742,820.4 1751,816 1759,814.2 1768,814.2 1777,820.4 1786,824.4 1794,827.9 1803,831 1812,834.5 1820,841.5 1829,845.3 1838,847.4 1846,849.2 1855,858 1864,866.5 1873,882.8 1881,900.4 1890,913.7 1899,930.7 1907,950.5 1916,985.5 1925,1004.8 1933,1024.8 1942,1041.2 1951,1056.6 1959,1073 1968,1091.1 1977,1109.1 1986,1121 1994,1129.9 2003,1139.9 2012,1148.8 2020,1159.6 2029,1171.4 2038,1181.1 2046,1188 2055,1194.4 2064,1200.9 2073,1212.5 2081,1224.2 2090,1227.2 2099,1230.9 2107,1237.4 2116,1241.1 2125,1246.8 2133,1246.1 2142,1246.3 2151,1240" fill="none" stroke="#00695c" stroke-width="2" stroke-linejoin="round" stroke-linecap="round"/>
<path d="M19 581h2V626h-2ZM27 560h2V585h-2ZM36 570h2V602h-2ZM45 588h2V596h-2ZM54 571h2V594h-2ZM62 571h2V600h-2ZM71 577h2V600h-2ZM80 541h2V589h-2ZM88 480h2V558h-2ZM97 456h2V500h-2ZM106 464h2V474h-2ZM114 446h2V474h-2ZM123 404h2V454h-2ZM132 443h2V493h-2ZM141 441h2V477h-2ZM149 430h2V472h-2ZM158 432h2V475h-2ZM167 460h2V474h-2ZM175 456h2V475h-2ZM184 446h2V484h-2ZM193 439h2V489h-2ZM201 440h2V475h-2ZM210 448h2V463h-2ZM219 460h2V504h-2ZM228 463h2V475h-2ZM236 445h2V468h-2ZM245 444h2V467h-2ZM254 451h2V470h-2ZM262 457h2V493h-2ZM271 455h2V496h-2ZM280 490h2V532h-2ZM288 521h2V541h-2ZM297 513h2V542h-2ZM306 494h2V515h-2ZM315 502h2V533h-2ZM323 494h2V523h-2ZM332 470h2V512h-2ZM341 471h2V491h-2ZM349 467h2V486h-2ZM358 451h2V486h-2ZM367 415h2V466h-2ZM375 439h2V464h-2ZM384 399h2V455h-2ZM393 389h2V476h-2ZM402 450h2V480h-2ZM410 466h2V476h-2ZM419 459h2V475h-2ZM428 471h2V507h-2ZM436 481h2V532h-2ZM445 508h2V537h-2ZM454 506h2V542h-2ZM462 473h2V546h-2ZM471 479h2V509h-2ZM480 496h2V558h-2ZM488 520h2V576h-2ZM497 536h2V584h-2ZM506 533h2V562h-2ZM515 522h2V556h-2ZM523 533h2V600h-2ZM532 581h2V601h-2ZM541 573h2V592h-2ZM549 568h2V603h-2ZM558 544h2V588h-2ZM567 533h2V560h-2ZM575 539h2V576h-2ZM584 523h2V564h-2ZM593 550h2V567h-2ZM602 546h2V565h-2ZM610 529h2V558h-2ZM619 525h2V557h-2ZM628 511h2V555h-2ZM636 496h2V523h-2ZM645 481h2V506h-2ZM654 486h2V501h-2ZM662 488h2V501h-2ZM671 481h2V510h-2ZM680 479h2V506h-2ZM689 475h2V506h-2ZM697 467h2V489h-2ZM706 472h2V502h-2ZM715 488h2V497h-2ZM723 492h2V501h-2ZM732 498h2V541h-2ZM741 524h2V548h-2ZM749 516h2V553h-2ZM758 522h2V584h-2ZM767 562h2V584h-2ZM776 569h2V578h-2ZM784 537h2V577h-2ZM793 510h2V546h-2ZM802 505h2V532h-2ZM810 458h2V516h-2ZM819 429h2V462h-2ZM828 396h2V450h-2ZM836 408h2V424h-2ZM845 376h2V416h-2ZM854 369h2V405h-2ZM863 381h2V435h-2ZM871 393h2V429h-2ZM880 397h2V446h-2ZM889 412h2V571h-2ZM897 523h2V571h-2ZM906 493h2V571h-2ZM915 490h2V519h-2ZM923 497h2V567h-2ZM932 520h2V564h-2ZM941 541h2V601h-2ZM949 577h2V654h-2ZM958 599h2V615h-2ZM967 574h2V618h-2ZM976 545h2V601h-2ZM984 515h2V600h-2ZM993 578h2V619h-2ZM1002 550h2V600h-2ZM1010 540h2V570h-2ZM1019 542h2V558h-2ZM1028 498h2V550h-2ZM1036 486h2V518h-2ZM1045 490h2V538h-2ZM1054 520h2V577h-2ZM1063 546h2V616h-2ZM1071 553h2V590h-2ZM1080 561h2V575h-2ZM1089 555h2V574h-2ZM1097 557h2V629h-2ZM1106 603h2V719h-2ZM1115 640h2V719h-2ZM1123 645h2V700h-2ZM1132 647h2V715h-2ZM1141 656h2V683h-2ZM1150 628h2V684h-2ZM1158 612h2V644h-2ZM1167 600h2V669h-2ZM1176 629h2V692h-2ZM1184 647h2V733h-2ZM1193 706h2V793h-2ZM1202 751h2V785h-2ZM1210 754h2V808h-2ZM1219 763h2V836h-2ZM1228 796h2V867h-2ZM1237 808h2V878h-2ZM1245 806h2V921h-2ZM1254 897h2V1013h-2ZM1263 927h2V963h-2ZM1271 885h2V943h-2ZM1280 867h2V932h-2ZM1289 879h2V918h-2ZM1297 844h2V914h-2ZM1306 824h2V853h-2ZM1315 805h2V851h-2ZM1324 836h2V851h-2ZM1332 823h2V849h-2ZM1341 848h2V956h-2ZM1350 818h2V916h-2ZM1358 789h2V838h-2ZM1367 791h2V840h-2ZM1376 812h2V884h-2ZM1384 850h2V871h-2ZM1393 826h2V890h-2ZM1402 818h2V860h-2ZM1411 782h2V861h-2ZM1419 785h2V828h-2ZM1428 799h2V866h-2ZM1437 811h2V863h-2ZM1445 844h2V858h-2ZM1454 847h2V893h-2ZM1463 854h2V934h-2ZM1471 884h2V932h-2ZM1480 849h2V932h-2ZM1489 864h2V946h-2ZM1497 865h2V935h-2ZM1506 878h2V890h-2ZM1515 870h2V893h-2ZM1524 846h2V889h-2ZM1532 872h2V910h-2ZM1541 887h2V913h-2ZM1550 878h2V905h-2ZM1558 863h2V910h-2ZM1567 888h2V900h-2ZM1576 886h2V897h-2ZM1584 849h2V908h-2ZM1593 865h2V908h-2ZM1602 869h2V901h-2ZM1611 874h2V898h-2ZM1619 840h2V882h-2ZM1628 844h2V866h-2ZM1637 827h2V846h-2ZM1645 780h2V832h-2ZM1654 786h2V835h-2ZM1663 796h2V846h-2ZM1671 830h2V867h-2ZM1680 824h2V861h-2ZM1689 843h2V850h-2ZM1698 836h2V852h-2ZM1706 817h2V854h-2ZM1715 755h2V839h-2ZM1724 733h2V788h-2ZM1732 745h2V775h-2ZM1741 765h2V788h-2ZM1750 768h2V776h-2ZM1758 770h2V799h-2ZM1767 798h2V824h-2ZM1776 810h2V890h-2ZM1785 847h2V900h-2ZM1793 850h2V880h-2ZM1802 840h2V879h-2ZM1811 858h2V870h-2ZM1819 867h2V919h-2ZM1828 874h2V912h-2ZM1837 864h2V900h-2ZM1845 847h2V875h-2ZM1854 867h2V966h-2ZM1863 943h2V1004h-2ZM1872 951h2V1105h-2ZM1880 1035h2V1103h-2ZM1889 1036h2V1124h-2ZM1898 1039h2V1157h-2ZM1906 1080h2V1179h-2ZM1915 1151h2V1383h-2ZM1924 1180h2V1436h-2ZM1932 1181h2V1270h-2ZM1941 1170h2V1237h-2ZM1950 1186h2V1249h-2ZM1958 1205h2V1257h-2ZM1967 1230h2V1305h-2ZM1976 1248h2V1319h-2ZM1985 1227h2V1302h-2ZM1993 1204h2V1240h-2ZM2002 1195h2V1254h-2ZM2011 1213h2V1271h-2ZM2019 1231h2V1286h-2ZM2028 1247h2V1302h-2ZM2037 1271h2V1307h-2ZM2045 1249h2V1289h-2ZM2054 1242h2V1266h-2ZM2063 1251h2V1273h-2ZM2072 1263h2V1345h-2ZM2080 1321h2V1376h-2ZM2089 1213h2V1344h-2ZM2098 1238h2V1287h-2ZM2106 1251h2V1322h-2ZM2115 1261h2V1363h-2ZM2124 1251h2V1319h-2ZM2132 1212h2V1315h-2ZM2141 1229h2V1295h-2ZM2150 1176h2V1268h-2Z" fill="#6e7077"/>
<path d="M16 582h8V625h-8ZM24 572h8V583h-8ZM42 590h8V594h-8ZM51 577h8V591h-8ZM68 581h8V590h-8ZM77 550h8V581h-8ZM85 491h8V551h-8ZM94 473h8V491h-8ZM111 453h8V473h-8ZM120 444h8V454h-8ZM138 459h8V470h-8ZM146 452h8V459h-8ZM181 473h8V475h-8ZM190 442h8V473h-8ZM225 468h8V472h-8ZM233 449h8V467h-8ZM294 514h8V535h-8ZM303 503h8V514h-8ZM320 504h8V515h-8ZM329 472h8V504h-8ZM355 451h8V486h-8ZM372 441h8V459h-8ZM381 403h8V442h-8ZM407 472h8V474h-8ZM416 472h8V474h-8ZM442 513h8V530h-8ZM459 480h8V536h-8ZM494 544h8V565h-8ZM512 535h8V552h-8ZM529 582h8V589h-8ZM546 578h8V592h-8ZM555 551h8V578h-8ZM564 544h8V552h-8ZM599 552h8V565h-8ZM607 541h8V553h-8ZM625 516h8V548h-8ZM633 497h8V516h-8ZM642 490h8V498h-8ZM668 497h8V499h-8ZM677 481h8V499h-8ZM694 478h8V486h-8ZM712 493h8V495h-8ZM746 524h8V542h-8ZM764 571h8V581h-8ZM781 540h8V572h-8ZM790 511h8V540h-8ZM807 458h8V516h-8ZM816 435h8V458h-8ZM825 415h8V436h-8ZM833 413h8V415h-8ZM842 401h8V414h-8ZM851 387h8V402h-8ZM868 403h8V426h-8ZM903 502h8V558h-8ZM912 500h8V503h-8ZM955 604h8V615h-8ZM964 584h8V605h-8ZM973 559h8V585h-8ZM999 566h8V599h-8ZM1007 554h8V567h-8ZM1016 545h8V555h-8ZM1025 509h8V546h-8ZM1068 574h8V590h-8ZM1077 566h8V573h-8ZM1086 560h8V567h-8ZM1112 650h8V683h-8ZM1129 657h8V685h-8ZM1147 639h8V672h-8ZM1155 620h8V639h-8ZM1199 769h8V785h-8ZM1225 809h8V822h-8ZM1268 907h8V943h-8ZM1277 882h8V907h-8ZM1294 847h8V898h-8ZM1303 833h8V848h-8ZM1347 834h8V916h-8ZM1355 800h8V835h-8ZM1390 849h8V868h-8ZM1399 844h8V849h-8ZM1408 812h8V845h-8ZM1425 815h8V822h-8ZM1468 889h8V914h-8ZM1494 885h8V929h-8ZM1503 881h8V886h-8ZM1512 876h8V882h-8ZM1538 894h8V897h-8ZM1555 898h8V900h-8ZM1564 890h8V899h-8ZM1573 889h8V891h-8ZM1590 881h8V902h-8ZM1608 875h8V895h-8ZM1616 855h8V876h-8ZM1625 845h8V855h-8ZM1634 831h8V846h-8ZM1642 794h8V832h-8ZM1695 842h8V849h-8ZM1703 836h8V842h-8ZM1712 771h8V836h-8ZM1721 748h8V772h-8ZM1782 864h8V882h-8ZM1790 862h8V864h-8ZM1799 861h8V863h-8ZM1825 882h8V911h-8ZM1834 868h8V883h-8ZM1842 867h8V869h-8ZM1886 1047h8V1081h-8ZM1921 1203h8V1370h-8ZM1938 1209h8V1231h-8ZM1982 1239h8V1294h-8ZM1990 1218h8V1240h-8ZM2008 1237h8V1239h-8ZM2034 1277h8V1290h-8ZM2042 1256h8V1278h-8ZM2086 1256h8V1342h-8ZM2112 1278h8V1302h-8ZM2129 1239h8V1304h-8ZM2147 1182h8V1250h-8Z" fill="#225a38"/>
<path d="M33 572h8V594h-8ZM59 577h8V590h-8ZM103 472h8V474h-8ZM129 444h8V470h-8ZM155 452h8V466h-8ZM164 465h8V467h-8ZM172 468h8V475h-8ZM198 442h8V458h-8ZM207 458h8V463h-8ZM216 463h8V472h-8ZM242 448h8V467h-8ZM251 465h8V467h-8ZM259 466h8V468h-8ZM268 469h8V495h-8ZM277 495h8V526h-8ZM285 525h8V534h-8ZM312 504h8V515h-8ZM338 472h8V484h-8ZM346 483h8V486h-8ZM364 451h8V459h-8ZM390 403h8V463h-8ZM399 462h8V474h-8ZM425 474h8V489h-8ZM433 488h8V532h-8ZM451 513h8V536h-8ZM468 480h8V499h-8ZM477 498h8V523h-8ZM485 523h8V566h-8ZM503 544h8V551h-8ZM520 535h8V590h-8ZM538 582h8V591h-8ZM572 544h8V558h-8ZM581 556h8V558h-8ZM590 558h8V565h-8ZM616 541h8V548h-8ZM651 489h8V491h-8ZM659 491h8V500h-8ZM686 481h8V486h-8ZM703 478h8V496h-8ZM720 494h8V501h-8ZM729 500h8V533h-8ZM738 532h8V542h-8ZM755 524h8V581h-8ZM773 570h8V572h-8ZM799 511h8V515h-8ZM860 387h8V426h-8ZM877 403h8V422h-8ZM886 422h8V528h-8ZM894 529h8V558h-8ZM920 501h8V528h-8ZM929 527h8V558h-8ZM938 558h8V592h-8ZM946 592h8V615h-8ZM981 559h8V589h-8ZM990 590h8V600h-8ZM1033 509h8V516h-8ZM1042 516h8V530h-8ZM1051 529h8V567h-8ZM1060 566h8V590h-8ZM1094 560h8V614h-8ZM1103 613h8V684h-8ZM1120 650h8V686h-8ZM1138 657h8V672h-8ZM1164 620h8V662h-8ZM1173 661h8V681h-8ZM1181 680h8V710h-8ZM1190 709h8V785h-8ZM1207 769h8V790h-8ZM1216 790h8V823h-8ZM1234 809h8V832h-8ZM1242 832h8V912h-8ZM1251 911h8V936h-8ZM1260 936h8V943h-8ZM1286 882h8V898h-8ZM1312 833h8V841h-8ZM1321 839h8V841h-8ZM1329 842h8V849h-8ZM1338 848h8V916h-8ZM1364 800h8V822h-8ZM1373 821h8V865h-8ZM1381 864h8V866h-8ZM1416 812h8V822h-8ZM1434 815h8V850h-8ZM1442 849h8V851h-8ZM1451 850h8V884h-8ZM1460 884h8V914h-8ZM1477 889h8V916h-8ZM1486 916h8V929h-8ZM1521 875h8V877h-8ZM1529 878h8V897h-8ZM1547 894h8V901h-8ZM1581 889h8V902h-8ZM1599 880h8V895h-8ZM1651 794h8V797h-8ZM1660 796h8V834h-8ZM1668 835h8V839h-8ZM1677 839h8V848h-8ZM1686 846h8V849h-8ZM1729 748h8V769h-8ZM1738 767h8V769h-8ZM1747 769h8V776h-8ZM1755 776h8V799h-8ZM1764 798h8V815h-8ZM1773 815h8V882h-8ZM1808 862h8V870h-8ZM1816 870h8V912h-8ZM1851 868h8V945h-8ZM1860 945h8V952h-8ZM1869 951h8V1048h-8ZM1877 1047h8V1081h-8ZM1895 1047h8V1104h-8ZM1903 1104h8V1155h-8ZM1912 1154h8V1371h-8ZM1929 1204h8V1230h-8ZM1947 1209h8V1214h-8ZM1955 1213h8V1240h-8ZM1964 1239h8V1276h-8ZM1973 1276h8V1294h-8ZM1999 1218h8V1239h-8ZM2016 1238h8V1268h-8ZM2025 1267h8V1290h-8ZM2051 1255h8V1257h-8ZM2060 1256h8V1265h-8ZM2069 1264h8V1329h-8ZM2077 1328h8V1342h-8ZM2095 1256h8V1268h-8ZM2103 1268h8V1302h-8ZM2121 1278h8V1305h-8ZM2138 1239h8V1250h-8Z" fill="#5c1812"/>
<path d="M18 584h4V623h-4ZM26 574h4V581h-4ZM53 579h4V589h-4ZM70 583h4V588h-4ZM79 552h4V579h-4ZM87 493h4V549h-4ZM96 475h4V489h-4ZM113 455h4V471h-4ZM122 446h4V452h-4ZM140 461h4V468h-4ZM148 454h4V457h-4ZM192 444h4V471h-4ZM235 451h4V465h-4ZM296 516h4V533h-4ZM305 505h4V512h-4ZM322 506h4V513h-4ZM331 474h4V502h-4ZM357 453h4V484h-4ZM374 443h4V457h-4ZM383 405h4V440h-4ZM444 515h4V528h-4ZM461 482h4V534h-4ZM496 546h4V563h-4ZM514 537h4V550h-4ZM531 584h4V587h-4ZM548 580h4V590h-4ZM557 553h4V576h-4ZM566 546h4V550h-4ZM601 554h4V563h-4ZM609 543h4V551h-4ZM627 518h4V546h-4ZM635 499h4V514h-4ZM644 492h4V496h-4ZM679 483h4V497h-4ZM696 480h4V484h-4ZM748 526h4V540h-4ZM766 573h4V579h-4ZM783 542h4V570h-4ZM792 513h4V538h-4ZM809 460h4V514h-4ZM818 437h4V456h-4ZM827 417h4V434h-4ZM844 403h4V412h-4ZM853 389h4V400h-4ZM870 405h4V424h-4ZM905 504h4V556h-4ZM957 606h4V613h-4ZM966 586h4V603h-4ZM975 561h4V583h-4ZM1001 568h4V597h-4ZM1009 556h4V565h-4ZM1018 547h4V553h-4ZM1027 511h4V544h-4ZM1070 576h4V588h-4ZM1079 568h4V571h-4ZM1088 562h4V565h-4ZM1114 652h4V681h-4ZM1131 659h4V683h-4ZM1149 641h4V670h-4ZM1157 622h4V637h-4ZM1201 771h4V783h-4ZM1227 811h4V820h-4ZM1270 909h4V941h-4ZM1279 884h4V905h-4ZM1296 849h4V896h-4ZM1305 835h4V846h-4ZM1349 836h4V914h-4ZM1357 802h4V833h-4ZM1392 851h4V866h-4ZM1401 846h4V847h-4ZM1410 814h4V843h-4ZM1427 817h4V820h-4ZM1470 891h4V912h-4ZM1496 887h4V927h-4ZM1505 883h4V884h-4ZM1514 878h4V880h-4ZM1566 892h4V897h-4ZM1592 883h4V900h-4ZM1610 877h4V893h-4ZM1618 857h4V874h-4ZM1627 847h4V853h-4ZM1636 833h4V844h-4ZM1644 796h4V830h-4ZM1697 844h4V847h-4ZM1705 838h4V840h-4ZM1714 773h4V834h-4ZM1723 750h4V770h-4ZM1784 866h4V880h-4ZM1827 884h4V909h-4ZM1836 870h4V881h-4ZM1888 1049h4V1079h-4ZM1923 1205h4V1368h-4ZM1940 1211h4V1229h-4ZM1984 1241h4V1292h-4ZM1992 1220h4V1238h-4ZM2036 1279h4V1288h-4ZM2044 1258h4V1276h-4ZM2088 1258h4V1340h-4ZM2114 1280h4V1300h-4ZM2131 1241h4V1302h-4ZM2149 1184h4V1248h-4Z" fill="#6ea886"/>
<path d="M35 574h4V592h-4ZM61 579h4V588h-4ZM131 446h4V468h-4ZM157 454h4V464h-4ZM174 470h4V473h-4ZM200 444h4V456h-4ZM209 460h4V461h-4ZM218 465h4V470h-4ZM244 450h4V465h-4ZM270 471h4V493h-4ZM279 497h4V524h-4ZM287 527h4V532h-4ZM314 506h4V513h-4ZM340 474h4V482h-4ZM366 453h4V457h-4ZM392 405h4V461h-4ZM401 464h4V472h-4ZM427 476h4V487h-4ZM435 490h4V530h-4ZM453 515h4V534h-4ZM470 482h4V497h-4ZM479 500h4V521h-4ZM487 525h4V564h-4ZM505 546h4V549h-4ZM522 537h4V588h-4ZM540 584h4V589h-4ZM574 546h4V556h-4ZM592 560h4V563h-4ZM618 543h4V546h-4ZM661 493h4V498h-4ZM688 483h4V484h-4ZM705 480h4V494h-4ZM722 496h4V499h-4ZM731 502h4V531h-4ZM740 534h4V540h-4ZM757 526h4V579h-4ZM862 389h4V424h-4ZM879 405h4V420h-4ZM888 424h4V526h-4ZM896 531h4V556h-4ZM922 503h4V526h-4ZM931 529h4V556h-4ZM940 560h4V590h-4ZM948 594h4V613h-4ZM983 561h4V587h-4ZM992 592h4V598h-4ZM1035 511h4V514h-4ZM1044 518h4V528h-4ZM1053 531h4V565h-4ZM1062 568h4V588h-4ZM1096 562h4V612h-4ZM1105 615h4V682h-4ZM1122 652h4V684h-4ZM1140 659h4V670h-4ZM1166 622h4V660h-4ZM1175 663h4V679h-4ZM1183 682h4V708h-4ZM1192 711h4V783h-4ZM1209 771h4V788h-4ZM1218 792h4V821h-4ZM1236 811h4V830h-4ZM1244 834h4V910h-4ZM1253 913h4V934h-4ZM1262 938h4V941h-4ZM1288 884h4V896h-4ZM1314 835h4V839h-4ZM1331 844h4V847h-4ZM1340 850h4V914h-4ZM1366 802h4V820h-4ZM1375 823h4V863h-4ZM1418 814h4V820h-4ZM1436 817h4V848h-4ZM1453 852h4V882h-4ZM1462 886h4V912h-4ZM1479 891h4V914h-4ZM1488 918h4V927h-4ZM1531 880h4V895h-4ZM1549 896h4V899h-4ZM1583 891h4V900h-4ZM1601 882h4V893h-4ZM1662 798h4V832h-4ZM1679 841h4V846h-4ZM1731 750h4V767h-4ZM1749 771h4V774h-4ZM1757 778h4V797h-4ZM1766 800h4V813h-4ZM1775 817h4V880h-4ZM1810 864h4V868h-4ZM1818 872h4V910h-4ZM1853 870h4V943h-4ZM1862 947h4V950h-4ZM1871 953h4V1046h-4ZM1879 1049h4V1079h-4ZM1897 1049h4V1102h-4ZM1905 1106h4V1153h-4ZM1914 1156h4V1369h-4ZM1931 1206h4V1228h-4ZM1949 1211h4V1212h-4ZM1957 1215h4V1238h-4ZM1966 1241h4V1274h-4ZM1975 1278h4V1292h-4ZM2001 1220h4V1237h-4ZM2018 1240h4V1266h-4ZM2027 1269h4V1288h-4ZM2062 1258h4V1263h-4ZM2071 1266h4V1327h-4ZM2079 1330h4V1340h-4ZM2097 1258h4V1266h-4ZM2105 1270h4V1300h-4ZM2123 1280h4V1303h-4ZM2140 1241h4V1248h-4Z" fill="#d95444"/>
<path d="M20 1181.5H2619" stroke="#4f9a73" stroke-width="2" stroke-dasharray="2 4" fill="none"/>
</g>
<text x="35.9" y="349.6" font-size="23.5" fill="#4c4c50" font-family="Liberation Sans, sans-serif" textLength="387" lengthAdjust="spacingAndGlyphs" stroke="#4c4c50" stroke-width="0.35" >Bitcoin / U.S. Dollar · 1D · Bitstamp</text>
<text x="439" y="349.6" font-size="23.5" fill="#4c4c50" font-family="Liberation Sans, sans-serif" textLength="17.4" lengthAdjust="spacingAndGlyphs" stroke="#4c4c50" stroke-width="0.35" >O</text>
<text x="457.5" y="349.6" font-size="23.5" fill="#1f5c3a" font-family="Liberation Sans, sans-serif" textLength="78.6" lengthAdjust="spacingAndGlyphs" stroke="#1f5c3a" stroke-width="0.35" >68,336</text>
<text x="552.2" y="349.6" font-size="23.5" fill="#4c4c50" font-family="Liberation Sans, sans-serif" textLength="16.5" lengthAdjust="spacingAndGlyphs" stroke="#4c4c50" stroke-width="0.35" >H</text>
<text x="569.8" y="349.6" font-size="23.5" fill="#1f5c3a" font-family="Liberation Sans, sans-serif" textLength="74.4" lengthAdjust="spacingAndGlyphs" stroke="#1f5c3a" stroke-width="0.35" >71,896</text>
<text x="659.8" y="349.6" font-size="23.5" fill="#4c4c50" font-family="Liberation Sans, sans-serif" textLength="12" lengthAdjust="spacingAndGlyphs" stroke="#4c4c50" stroke-width="0.35" >L</text>
<text x="673" y="349.6" font-size="23.5" fill="#1f5c3a" font-family="Liberation Sans, sans-serif" textLength="77" lengthAdjust="spacingAndGlyphs" stroke="#1f5c3a" stroke-width="0.35" >67,405</text>
<text x="764.7" y="349.6" font-size="23.5" fill="#4c4c50" font-family="Liberation Sans, sans-serif" textLength="16.8" lengthAdjust="spacingAndGlyphs" stroke="#4c4c50" stroke-width="0.35" >C</text>
<text x="782.6" y="349.6" font-size="23.5" fill="#1f5c3a" font-family="Liberation Sans, sans-serif" textLength="73.2" lengthAdjust="spacingAndGlyphs" stroke="#1f5c3a" stroke-width="0.35" >71,582</text>
<text x="870.5" y="349.6" font-size="23.5" fill="#1f5c3a" font-family="Liberation Sans, sans-serif" textLength="190.7" lengthAdjust="spacingAndGlyphs" stroke="#1f5c3a" stroke-width="0.35" >+3,246 (+4.75%)</text>
<text x="35.9" y="383.1" font-size="23.5" fill="#4c4c50" font-family="Liberation Sans, sans-serif" textLength="177.2" lengthAdjust="spacingAndGlyphs" stroke="#4c4c50" stroke-width="0.35" >EMA (50, close)</text>
<text x="228.7" y="383.1" font-size="23.5" fill="#f23645" font-family="Liberation Sans, sans-serif" textLength="75.9" lengthAdjust="spacingAndGlyphs" stroke="#f23645" stroke-width="0.35" >74,370</text>
<text x="35.9" y="417.2" font-size="23.5" fill="#4c4c50" font-family="Liberation Sans, sans-serif" textLength="191.7" lengthAdjust="spacingAndGlyphs" stroke="#4c4c50" stroke-width="0.35" >EMA (200, close)</text>
<text x="244.8" y="417.2" font-size="23.5" fill="#2962ff" font-family="Liberation Sans, sans-serif" textLength="77" lengthAdjust="spacingAndGlyphs" stroke="#2962ff" stroke-width="0.35" >89,927</text>
<text x="35.9" y="451.2" font-size="23.5" fill="#4c4c50" font-family="Liberation Sans, sans-serif" textLength="101.7" lengthAdjust="spacingAndGlyphs" stroke="#4c4c50" stroke-width="0.35" >Vol · BTC</text>
<text x="153.9" y="451.2" font-size="23.5" fill="#26a69a" font-family="Liberation Sans, sans-serif" textLength="63.6" lengthAdjust="spacingAndGlyphs" stroke="#26a69a" stroke-width="0.35" >2.13 K</text>
<text x="35.9" y="485.1" font-size="23.5" fill="#4c4c50" font-family="Liberation Sans, sans-serif" textLength="176.5" lengthAdjust="spacingAndGlyphs" stroke="#4c4c50" stroke-width="0.35" >EMA (20, close)</text>
<text x="229.4" y="485.1" font-size="23.5" fill="#00695c" font-family="Liberation Sans, sans-serif" textLength="77" lengthAdjust="spacingAndGlyphs" stroke="#00695c" stroke-width="0.35" >68,730</text>
<text x="35.9" y="519.2" font-size="23.5" fill="#4c4c50" font-family="Liberation Sans, sans-serif" textLength="188.3" lengthAdjust="spacingAndGlyphs" stroke="#4c4c50" stroke-width="0.35" >EMA (100, close)</text>
<text x="241.4" y="519.2" font-size="23.5" fill="#5e35b1" font-family="Liberation Sans, sans-serif" textLength="73.7" lengthAdjust="spacingAndGlyphs" stroke="#5e35b1" stroke-width="0.35" >81,924</text>
<text x="36.1" y="93.8" font-size="23.5" fill="#4c4c50" font-family="Liberation Sans, sans-serif" textLength="158.1" lengthAdjust="spacingAndGlyphs" stroke="#4c4c50" stroke-width="0.35" >RSI (14, close)</text>
<text x="212.5" y="93.8" font-size="23.5" fill="#7e57c2" font-family="Liberation Sans, sans-serif" textLength="60.5" lengthAdjust="spacingAndGlyphs" stroke="#7e57c2" stroke-width="0.35" >53.77</text>
<text x="289.6" y="93.8" font-size="23.5" fill="#fdd835" font-family="Liberation Sans, sans-serif" textLength="63.4" lengthAdjust="spacingAndGlyphs" stroke="#fdd835" stroke-width="0.35" >40.00</text>
<rect x="2619" y="54.4" width="130.86" height="1499.10" fill="#f3e0d0"/>
<text x="2637" y="448.3" font-size="23" fill="#4c4c50" font-family="Liberation Sans, sans-serif" textLength="87.4" lengthAdjust="spacingAndGlyphs" stroke="#4c4c50" stroke-width="0.35" >120,000</text>
<text x="2637" y="547.3" font-size="23" fill="#4c4c50" font-family="Liberation Sans, sans-serif" textLength="87.4" lengthAdjust="spacingAndGlyphs" stroke="#4c4c50" stroke-width="0.35" >112,000</text>
<text x="2637" y="653.3" font-size="23" fill="#4c4c50" font-family="Liberation Sans, sans-serif" textLength="87.4" lengthAdjust="spacingAndGlyphs" stroke="#4c4c50" stroke-width="0.35" >104,000</text>
<text x="2636" y="724.3" font-size="23" fill="#4c4c50" font-family="Liberation Sans, sans-serif" textLength="74.3" lengthAdjust="spacingAndGlyphs" stroke="#4c4c50" stroke-width="0.35" >99,000</text>
<text x="2636" y="783.3" font-size="23" fill="#4c4c50" font-family="Liberation Sans, sans-serif" textLength="74.3" lengthAdjust="spacingAndGlyphs" stroke="#4c4c50" stroke-width="0.35" >95,000</text>
<text x="2636" y="844.3" font-size="23" fill="#4c4c50" font-family="Liberation Sans, sans-serif" textLength="74.3" lengthAdjust="spacingAndGlyphs" stroke="#4c4c50" stroke-width="0.35" >91,000</text>
<text x="2636" y="909.3" font-size="23" fill="#4c4c50" font-family="Liberation Sans, sans-serif" textLength="74.3" lengthAdjust="spacingAndGlyphs" stroke="#4c4c50" stroke-width="0.35" >87,000</text>
<text x="2636" y="976.3" font-size="23" fill="#4c4c50" font-family="Liberation Sans, sans-serif" textLength="74.3" lengthAdjust="spacingAndGlyphs" stroke="#4c4c50" stroke-width="0.35" >83,000</text>
<text x="2636" y="1047.3" font-size="23" fill="#4c4c50" font-family="Liberation Sans, sans-serif" textLength="74.3" lengthAdjust="spacingAndGlyphs" stroke="#4c4c50" stroke-width="0.35" >79,000</text>
<text x="2636" y="1121.3" font-size="23" fill="#4c4c50" font-family="Liberation Sans, sans-serif" textLength="74.3" lengthAdjust="spacingAndGlyphs" stroke="#4c4c50" stroke-width="0.35" >75,000</text>
<text x="2636" y="1180.3" font-size="23" fill="#4c4c50" font-family="Liberation Sans, sans-serif" textLength="74.3" lengthAdjust="spacingAndGlyphs" stroke="#4c4c50" stroke-width="0.35" >72,000</text>
<text x="2636" y="1241.3" font-size="23" fill="#4c4c50" font-family="Liberation Sans, sans-serif" textLength="74.3" lengthAdjust="spacingAndGlyphs" stroke="#4c4c50" stroke-width="0.35" >69,000</text>
<text x="2636" y="1304.3" font-size="23" fill="#4c4c50" font-family="Liberation Sans, sans-serif" textLength="74.3" lengthAdjust="spacingAndGlyphs" stroke="#4c4c50" stroke-width="0.35" >66,000</text>
<text x="2636" y="1371.3" font-size="23" fill="#4c4c50" font-family="Liberation Sans, sans-serif" textLength="74.3" lengthAdjust="spacingAndGlyphs" stroke="#4c4c50" stroke-width="0.35" >63,000</text>
<text x="2636" y="1436.3" font-size="23" fill="#4c4c50" font-family="Liberation Sans, sans-serif" textLength="74.3" lengthAdjust="spacingAndGlyphs" stroke="#4c4c50" stroke-width="0.35" >60,200</text>
<text x="2636" y="1494.3" font-size="23" fill="#4c4c50" font-family="Liberation Sans, sans-serif" textLength="74.3" lengthAdjust="spacingAndGlyphs" stroke="#4c4c50" stroke-width="0.35" >57,800</text>
<text x="2635.5" y="134.2" font-size="23" fill="#4c4c50" font-family="Liberation Sans, sans-serif" textLength="61" lengthAdjust="spacingAndGlyphs" stroke="#4c4c50" stroke-width="0.35" >60.00</text>
<text x="2635.5" y="209.8" font-size="23" fill="#4c4c50" font-family="Liberation Sans, sans-serif" textLength="61" lengthAdjust="spacingAndGlyphs" stroke="#4c4c50" stroke-width="0.35" >40.00</text>
<text x="2635.5" y="285.2" font-size="23" fill="#4c4c50" font-family="Liberation Sans, sans-serif" textLength="61" lengthAdjust="spacingAndGlyphs" stroke="#4c4c50" stroke-width="0.35" >20.00</text>
<rect x="2626.5" y="318.5" width="115.5" height="51" rx="8" ry="8" fill="#fff"/>
<text x="2645" y="352.6" font-size="23" fill="#131722" font-family="Liberation Sans, sans-serif" textLength="49" lengthAdjust="spacingAndGlyphs" stroke="#131722" stroke-width="0.35" >USD</text>
<path d="M2619 1005H2719a4 4 0 0 1 4 4V1033a4 4 0 0 1-4 4H2619Z" fill="#000"/>
<text x="2637" y="1027.8" font-size="23" fill="#fff" font-family="Liberation Sans, sans-serif" textLength="73.3" lengthAdjust="spacingAndGlyphs" stroke="#fff" stroke-width="0.35" >80,132</text>
<path d="M2515 1166.5H2619V1197.5H2515a4 4 0 0 1-4-4V1170.5a4 4 0 0 1 4-4Z" fill="#6ca585"/>
<text x="2520.3" y="1189.6" font-size="23" fill="#fff" font-family="Liberation Sans, sans-serif" textLength="89" lengthAdjust="spacingAndGlyphs" stroke="#fff" stroke-width="0.35" >BTCUSD</text>
<path d="M2619 1166.5H2739a4 4 0 0 1 4 4V1219.5a4 4 0 0 1-4 4H2619Z" fill="#6ca585"/>
<text x="2637" y="1187.9" font-size="23" fill="#fff" font-family="Liberation Sans, sans-serif" textLength="73.3" lengthAdjust="spacingAndGlyphs" stroke="#fff" stroke-width="0.35" >71,582</text>
<text x="2637" y="1213.7" font-size="23" fill="#fff" font-family="Liberation Sans, sans-serif" textLength="94" lengthAdjust="spacingAndGlyphs" stroke="#fff" stroke-width="0.35" fill-opacity="0.72">13:56:20</text>
<text x="281" y="1534.5" font-size="23" fill="#4c4c50" font-family="Liberation Sans, sans-serif" stroke="#4c4c50" stroke-width="0.35" text-anchor="middle" >Aug</text>
<text x="550" y="1534.5" font-size="23" fill="#4c4c50" font-family="Liberation Sans, sans-serif" stroke="#4c4c50" stroke-width="0.35" text-anchor="middle" >Sep</text>
<text x="811" y="1534.5" font-size="23" fill="#4c4c50" font-family="Liberation Sans, sans-serif" stroke="#4c4c50" stroke-width="0.35" text-anchor="middle" >Oct</text>
<text x="1081" y="1534.5" font-size="23" fill="#4c4c50" font-family="Liberation Sans, sans-serif" stroke="#4c4c50" stroke-width="0.35" text-anchor="middle" >Nov</text>
<text x="1342" y="1534.5" font-size="23" fill="#4c4c50" font-family="Liberation Sans, sans-serif" stroke="#4c4c50" stroke-width="0.35" text-anchor="middle" >Dec</text>
<text x="1612" y="1534.5" font-size="23" fill="#4c4c50" font-family="Liberation Sans, sans-serif" textLength="58" lengthAdjust="spacingAndGlyphs" font-weight="bold" text-anchor="middle" >2026</text>
<text x="1881" y="1534.5" font-size="23" fill="#4c4c50" font-family="Liberation Sans, sans-serif" stroke="#4c4c50" stroke-width="0.35" text-anchor="middle" >Feb</text>
<text x="2125" y="1534.5" font-size="23" fill="#4c4c50" font-family="Liberation Sans, sans-serif" stroke="#4c4c50" stroke-width="0.35" text-anchor="middle" >Mar</text>
<text x="2394" y="1534.5" font-size="23" fill="#4c4c50" font-family="Liberation Sans, sans-serif" stroke="#4c4c50" stroke-width="0.35" text-anchor="middle" >Apr</text>
<path d="M20.4 309H2749.86M20.4 1499H2749.86M2619 54.4V1553.5" stroke="#454648" stroke-width="2" fill="none"/>
<text x="20.3" y="39.8" font-size="25" fill="#dadada" font-family="Liberation Sans, sans-serif" textLength="786" lengthAdjust="spacingAndGlyphs" stroke="#dadada" stroke-width="0.35" >bitcoinwallah created with TradingView.com, Mar 04, 2026 10:03 UTC</text>
<g fill="#dcdcdc">
<path d="M23.8 1597.9H47.9V1628H35.5V1609.7H23.8Z"/>
<circle cx="57.9" cy="1603.7" r="6.05"/>
<path d="M69.6 1597.9H83.8L72.4 1628H58Z"/>
<path d="M97.96 1597.9H119.96V1603.6H111.94V1627.9H105.87V1603.6H97.96Z"/>
<rect x="119.96" y="1605.8" width="6.07" height="22.10"/>
<rect x="149.9" y="1605.8" width="6.10" height="22.10"/>
<rect x="176.04" y="1597.9" width="6.06" height="30.00"/>
<rect x="186.06" y="1605.8" width="6.07" height="22.10"/>
<rect x="196.09" y="1605.8" width="6.07" height="22.10"/>
<rect x="273.88" y="1605.8" width="6.07" height="22.10"/>
<circle cx="189.07" cy="1600.45" r="3.96"/><circle cx="277.05" cy="1600.45" r="3.96"/>
</g>
<g fill="none" stroke="#dcdcdc">
<path d="M123 1617.9A9.5 9.5 0 0 1 132.5 1608.4" stroke-width="5.3"/>
<ellipse cx="144.52" cy="1616.9" rx="8.5" ry="8.8" stroke-width="6.05"/>
<ellipse cx="170.68" cy="1616.9" rx="8.5" ry="8.8" stroke-width="6.05"/>
<ellipse cx="230.3" cy="1616.9" rx="8.5" ry="8.8" stroke-width="6.05"/>
<path d="M199.12 1620V1615A7 7 0 0 1 213.1 1615V1627.9" stroke-width="6.07"/>
<path d="M238.67 1605.8V1627A7.9 7.78 0 0 1 223.9 1630.9" stroke-width="6.07"/>
<path d="M302.41 1622.30A8.77 8.77 0 1 1 304.27 1616.9" stroke-width="6.2"/>
</g>
<rect x="287.5" y="1614.8" width="19.87" height="3.95" fill="#dcdcdc"/>
<clipPath id="cv"><rect x="235" y="1597.9" width="45" height="30"/></clipPath>
<clipPath id="cw"><rect x="300" y="1605.8" width="45" height="22.1"/></clipPath>
<polyline clip-path="url(#cv)" points="242.52,1591.90 256.6,1629.1000000000001 270.38,1591.90" fill="none" stroke="#dcdcdc" stroke-width="6.9" stroke-linejoin="miter" stroke-miterlimit="10"/>
<polyline clip-path="url(#cw)" points="307.30,1599.80 316.35,1629.40 323.00,1604.30 330.20,1629.40 338.76,1599.80" fill="none" stroke="#dcdcdc" stroke-width="6.5" stroke-linejoin="miter" stroke-miterlimit="10"/>
</svg>
</body></html>
